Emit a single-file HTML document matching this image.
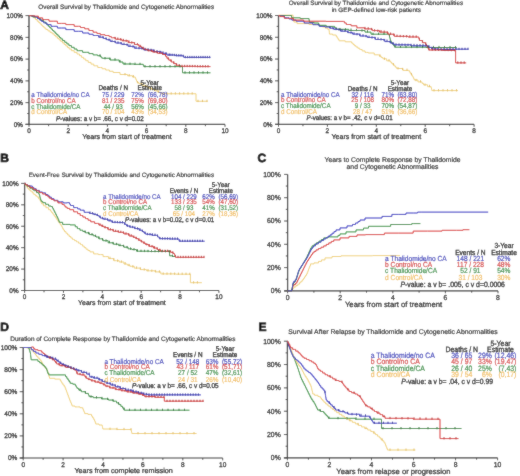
<!DOCTYPE html>
<html><head><meta charset="utf-8"><style>
html,body{margin:0;padding:0;background:#fff;}
svg{display:block;font-family:"Liberation Sans",sans-serif;will-change:transform;text-rendering:geometricPrecision;}
</style></head><body><div id="w">
<svg width="520" height="476" viewBox="0 0 520 476">
<defs><filter id="bl" x="0" y="0" width="520" height="476" filterUnits="userSpaceOnUse"><feConvolveMatrix order="3" kernelMatrix="1 2 1 2 24 2 1 2 1" edgeMode="duplicate" preserveAlpha="true"/></filter></defs>
<g filter="url(#bl)">
<rect width="520" height="476" fill="#fff"/>
<text transform="translate(0.20,8.70) scale(1,1.0)" font-size="12" text-anchor="start" fill="#000" stroke="#000" stroke-width="0.7" font-weight="bold">A</text>
<text transform="translate(126.20,9.20) scale(1,1.0)" font-size="6.32" text-anchor="middle" fill="#1a1a1a" stroke="#1a1a1a" stroke-width="0.15">Overall Survival by Thalidomide and Cytogenetic Abnormalities</text>
<line x1="29.00" y1="15.60" x2="29.00" y2="124.40" stroke="#3a3a3a" stroke-width="1.3"/>
<line x1="25.50" y1="124.40" x2="225.00" y2="124.40" stroke="#3a3a3a" stroke-width="1.1"/>
<line x1="25.50" y1="124.40" x2="29.00" y2="124.40" stroke="#3a3a3a" stroke-width="0.9"/>
<text transform="translate(22.90,126.70) scale(1,1.06)" font-size="6.4" text-anchor="end" fill="#1a1a1a" stroke="#1a1a1a" stroke-width="0.24">0%</text>
<line x1="27.20" y1="113.52" x2="29.00" y2="113.52" stroke="#3a3a3a" stroke-width="0.9"/>
<line x1="25.50" y1="102.64" x2="29.00" y2="102.64" stroke="#3a3a3a" stroke-width="0.9"/>
<text transform="translate(22.90,104.94) scale(1,1.06)" font-size="6.4" text-anchor="end" fill="#1a1a1a" stroke="#1a1a1a" stroke-width="0.24">20%</text>
<line x1="27.20" y1="91.76" x2="29.00" y2="91.76" stroke="#3a3a3a" stroke-width="0.9"/>
<line x1="25.50" y1="80.88" x2="29.00" y2="80.88" stroke="#3a3a3a" stroke-width="0.9"/>
<text transform="translate(22.90,83.18) scale(1,1.06)" font-size="6.4" text-anchor="end" fill="#1a1a1a" stroke="#1a1a1a" stroke-width="0.24">40%</text>
<line x1="27.20" y1="70.00" x2="29.00" y2="70.00" stroke="#3a3a3a" stroke-width="0.9"/>
<line x1="25.50" y1="59.12" x2="29.00" y2="59.12" stroke="#3a3a3a" stroke-width="0.9"/>
<text transform="translate(22.90,61.42) scale(1,1.06)" font-size="6.4" text-anchor="end" fill="#1a1a1a" stroke="#1a1a1a" stroke-width="0.24">60%</text>
<line x1="27.20" y1="48.24" x2="29.00" y2="48.24" stroke="#3a3a3a" stroke-width="0.9"/>
<line x1="25.50" y1="37.36" x2="29.00" y2="37.36" stroke="#3a3a3a" stroke-width="0.9"/>
<text transform="translate(22.90,39.66) scale(1,1.06)" font-size="6.4" text-anchor="end" fill="#1a1a1a" stroke="#1a1a1a" stroke-width="0.24">80%</text>
<line x1="27.20" y1="26.48" x2="29.00" y2="26.48" stroke="#3a3a3a" stroke-width="0.9"/>
<line x1="25.50" y1="15.60" x2="29.00" y2="15.60" stroke="#3a3a3a" stroke-width="0.9"/>
<text transform="translate(22.90,17.90) scale(1,1.06)" font-size="6.4" text-anchor="end" fill="#1a1a1a" stroke="#1a1a1a" stroke-width="0.24">100%</text>
<line x1="29.00" y1="124.40" x2="29.00" y2="126.80" stroke="#3a3a3a" stroke-width="0.9"/>
<text transform="translate(29.00,133.10) scale(1,1.06)" font-size="6.4" text-anchor="middle" fill="#1a1a1a" stroke="#1a1a1a" stroke-width="0.24">0</text>
<line x1="48.60" y1="124.40" x2="48.60" y2="126.20" stroke="#3a3a3a" stroke-width="0.9"/>
<line x1="68.20" y1="124.40" x2="68.20" y2="126.80" stroke="#3a3a3a" stroke-width="0.9"/>
<text transform="translate(68.20,133.10) scale(1,1.06)" font-size="6.4" text-anchor="middle" fill="#1a1a1a" stroke="#1a1a1a" stroke-width="0.24">2</text>
<line x1="87.80" y1="124.40" x2="87.80" y2="126.20" stroke="#3a3a3a" stroke-width="0.9"/>
<line x1="107.40" y1="124.40" x2="107.40" y2="126.80" stroke="#3a3a3a" stroke-width="0.9"/>
<text transform="translate(107.40,133.10) scale(1,1.06)" font-size="6.4" text-anchor="middle" fill="#1a1a1a" stroke="#1a1a1a" stroke-width="0.24">4</text>
<line x1="127.00" y1="124.40" x2="127.00" y2="126.20" stroke="#3a3a3a" stroke-width="0.9"/>
<line x1="146.60" y1="124.40" x2="146.60" y2="126.80" stroke="#3a3a3a" stroke-width="0.9"/>
<text transform="translate(146.60,133.10) scale(1,1.06)" font-size="6.4" text-anchor="middle" fill="#1a1a1a" stroke="#1a1a1a" stroke-width="0.24">6</text>
<line x1="166.20" y1="124.40" x2="166.20" y2="126.20" stroke="#3a3a3a" stroke-width="0.9"/>
<line x1="185.80" y1="124.40" x2="185.80" y2="126.80" stroke="#3a3a3a" stroke-width="0.9"/>
<text transform="translate(185.80,133.10) scale(1,1.06)" font-size="6.4" text-anchor="middle" fill="#1a1a1a" stroke="#1a1a1a" stroke-width="0.24">8</text>
<line x1="205.40" y1="124.40" x2="205.40" y2="126.20" stroke="#3a3a3a" stroke-width="0.9"/>
<line x1="225.00" y1="124.40" x2="225.00" y2="126.80" stroke="#3a3a3a" stroke-width="0.9"/>
<text transform="translate(225.00,133.10) scale(1,1.06)" font-size="6.4" text-anchor="middle" fill="#1a1a1a" stroke="#1a1a1a" stroke-width="0.24">10</text>
<text transform="translate(126.90,138.60) scale(1,1.0)" font-size="7.08" text-anchor="middle" fill="#1a1a1a" stroke="#1a1a1a" stroke-width="0.24">Years from start of treatment</text>
<polyline points="29.00,15.60 31.00,15.60 31.00,16.20 33.00,16.20 33.83,16.20 33.83,17.87 35.50,17.87 35.50,19.53 37.17,19.53 37.17,21.20 38.00,21.20 38.68,21.20 38.68,22.56 40.04,22.56 40.04,23.92 41.40,23.92 41.40,25.28 42.76,25.28 42.76,26.64 44.12,26.64 44.12,28.00 44.80,28.00 45.85,28.00 45.85,29.45 47.95,29.45 47.95,30.90 50.05,30.90 50.05,32.35 52.15,32.35 52.15,33.80 53.20,33.80 54.04,33.80 54.04,35.32 55.72,35.32 55.72,36.84 57.40,36.84 57.40,38.36 59.08,38.36 59.08,39.88 60.76,39.88 60.76,41.40 61.60,41.40 62.44,41.40 62.44,42.92 64.12,42.92 64.12,44.44 65.80,44.44 65.80,45.96 67.48,45.96 67.48,47.48 69.16,47.48 69.16,49.00 70.00,49.00 71.40,49.00 71.40,50.67 74.20,50.67 74.20,52.33 77.00,52.33 77.00,54.00 78.40,54.00 79.45,54.00 79.45,55.67 81.55,55.67 81.55,57.35 83.65,57.35 83.65,59.03 85.75,59.03 85.75,60.70 86.80,60.70 88.20,60.70 88.20,62.40 91.00,62.40 91.00,64.10 93.80,64.10 93.80,65.80 95.20,65.80 97.75,65.80 97.75,67.50 100.30,67.50 102.10,67.50 102.10,68.75 105.70,68.75 105.70,70.00 107.50,70.00 109.38,70.00 109.38,71.25 113.12,71.25 113.12,72.50 115.00,72.50 120.00,72.50 120.00,74.50 125.00,74.50 127.50,74.50 127.50,75.75 132.50,75.75 132.50,77.00 135.00,77.00 135.31,77.00 135.31,78.38 135.94,78.38 135.94,79.75 136.56,79.75 136.56,81.12 137.19,81.12 137.19,82.50 137.50,82.50 138.75,82.50 138.75,83.75 140.00,83.75 141.67,83.75 141.67,85.17 145.00,85.17 145.00,86.58 148.33,86.58 148.33,88.00 150.00,88.00 151.56,88.00 151.56,89.44 154.69,89.44 154.69,90.88 157.81,90.88 157.81,92.31 160.94,92.31 160.94,93.75 162.50,93.75 196.00,93.75 196.00,101.25 207.50,101.25" fill="none" stroke="#f0d27c" stroke-width="1.0" stroke-linejoin="miter" opacity="1"/>
<polyline points="29.00,15.60 32.70,15.60 32.70,17.00 36.40,17.00 37.80,17.00 37.80,18.67 40.60,18.67 40.60,20.33 43.40,20.33 43.40,22.00 44.80,22.00 45.50,22.00 45.50,23.42 46.90,23.42 46.90,24.83 48.30,24.83 48.30,26.25 49.70,26.25 49.70,27.67 51.10,27.67 51.10,29.08 52.50,29.08 52.50,30.50 53.20,30.50 53.90,30.50 53.90,31.90 55.30,31.90 55.30,33.30 56.70,33.30 56.70,34.70 58.10,34.70 58.10,36.10 59.50,36.10 59.50,37.50 60.90,37.50 60.90,38.90 61.60,38.90 62.65,38.90 62.65,40.58 64.75,40.58 64.75,42.25 66.85,42.25 66.85,43.92 68.95,43.92 68.95,45.60 70.00,45.60 71.40,45.60 71.40,47.30 74.20,47.30 74.20,49.00 77.00,49.00 77.00,50.70 78.40,50.70 82.60,50.70 82.60,52.30 86.80,52.30 88.90,52.30 88.90,53.60 93.10,53.60 93.10,54.90 95.20,54.90 97.60,54.90 97.60,55.75 100.00,55.75 100.62,55.75 100.62,57.00 101.88,57.00 101.88,58.25 102.50,58.25 110.00,58.25 110.00,60.00 117.50,60.00 119.25,60.00 119.25,62.00 121.00,62.00 123.00,62.00 123.00,64.00 125.00,64.00 134.00,64.00 134.00,64.30 143.00,64.30 143.25,64.30 143.25,65.45 143.75,65.45 143.75,66.60 144.00,66.60 182.50,66.60 182.50,72.80 210.50,72.80" fill="none" stroke="#2f8f3a" stroke-width="1.0" stroke-linejoin="miter" opacity="1"/>
<polyline points="29.00,15.60 31.00,15.60 31.00,16.00 33.00,16.00 34.70,16.00 34.70,17.00 36.40,17.00 37.45,17.00 37.45,18.48 39.55,18.48 39.55,19.95 41.65,19.95 41.65,21.42 43.75,21.42 43.75,22.90 44.80,22.90 46.90,22.90 46.90,24.60 51.10,24.60 51.10,26.30 53.20,26.30 57.40,26.30 57.40,28.00 61.60,28.00 65.80,28.00 65.80,29.60 70.00,29.60 74.20,29.60 74.20,31.30 78.40,31.30 82.60,31.30 82.60,33.00 86.80,33.00 88.90,33.00 88.90,34.25 93.10,34.25 93.10,35.50 95.20,35.50 98.60,35.50 98.60,37.20 102.00,37.20 103.50,37.20 103.50,38.45 106.50,38.45 106.50,39.70 108.00,39.70 110.25,39.70 110.25,41.50 112.50,41.50 115.62,41.50 115.62,43.00 121.88,43.00 121.88,44.50 125.00,44.50 128.12,44.50 128.12,46.38 134.38,46.38 134.38,48.25 137.50,48.25 143.75,48.25 143.75,50.00 150.00,50.00 153.75,50.00 153.75,51.62 161.25,51.62 161.25,53.25 165.00,53.25 166.88,53.25 166.88,55.00 168.75,55.00 175.62,55.00 175.62,55.75 182.50,55.75 183.75,55.75 183.75,57.40 185.00,57.40 210.50,57.40" fill="none" stroke="#3030c0" stroke-width="1.0" stroke-linejoin="miter" opacity="1"/>
<polyline points="29.00,15.60 31.00,15.60 31.00,15.80 33.00,15.80 34.70,15.80 34.70,16.20 36.40,16.20 38.50,16.20 38.50,17.90 42.70,17.90 42.70,19.60 44.80,19.60 49.00,19.60 49.00,21.20 53.20,21.20 57.40,21.20 57.40,23.40 61.60,23.40 65.80,23.40 65.80,24.60 70.00,24.60 74.20,24.60 74.20,26.30 78.40,26.30 80.50,26.30 80.50,27.55 84.70,27.55 84.70,28.80 86.80,28.80 88.90,28.80 88.90,30.50 93.10,30.50 93.10,32.20 95.20,32.20 96.90,32.20 96.90,33.45 100.30,33.45 100.30,34.70 102.00,34.70 105.00,34.70 105.00,35.50 108.00,35.50 109.12,35.50 109.12,36.62 111.38,36.62 111.38,37.75 112.50,37.75 115.62,37.75 115.62,39.25 121.88,39.25 121.88,40.75 125.00,40.75 128.12,40.75 128.12,42.62 134.38,42.62 134.38,44.50 137.50,44.50 138.75,44.50 138.75,46.17 141.25,46.17 141.25,47.83 143.75,47.83 143.75,49.50 145.00,49.50 147.50,49.50 147.50,50.75 152.50,50.75 152.50,52.00 155.00,52.00 157.50,52.00 157.50,53.25 162.50,53.25 162.50,54.50 165.00,54.50 165.62,54.50 165.62,56.38 166.88,56.38 166.88,58.25 167.50,58.25 168.75,58.25 168.75,60.12 171.25,60.12 171.25,62.00 172.50,62.00 173.75,62.00 173.75,63.62 176.25,63.62 176.25,65.25 177.50,65.25 179.75,65.25 179.75,66.30 182.00,66.30 196.25,66.30 196.25,66.60 210.50,66.60" fill="none" stroke="#d83030" stroke-width="1.0" stroke-linejoin="miter" opacity="1"/>
<line x1="100.00" y1="35.20" x2="100.00" y2="37.50" stroke="#20209a" stroke-width="0.9"/>
<line x1="103.00" y1="36.12" x2="103.00" y2="38.42" stroke="#20209a" stroke-width="0.9"/>
<line x1="106.00" y1="37.37" x2="106.00" y2="39.67" stroke="#20209a" stroke-width="0.9"/>
<line x1="109.00" y1="38.60" x2="109.00" y2="40.90" stroke="#20209a" stroke-width="0.9"/>
<line x1="112.00" y1="39.80" x2="112.00" y2="42.10" stroke="#20209a" stroke-width="0.9"/>
<line x1="115.00" y1="40.60" x2="115.00" y2="42.90" stroke="#20209a" stroke-width="0.9"/>
<line x1="118.00" y1="41.32" x2="118.00" y2="43.62" stroke="#20209a" stroke-width="0.9"/>
<line x1="121.00" y1="42.04" x2="121.00" y2="44.34" stroke="#20209a" stroke-width="0.9"/>
<line x1="124.00" y1="42.76" x2="124.00" y2="45.06" stroke="#20209a" stroke-width="0.9"/>
<line x1="127.00" y1="43.60" x2="127.00" y2="45.90" stroke="#20209a" stroke-width="0.9"/>
<line x1="130.00" y1="44.50" x2="130.00" y2="46.80" stroke="#20209a" stroke-width="0.9"/>
<line x1="133.00" y1="45.40" x2="133.00" y2="47.70" stroke="#20209a" stroke-width="0.9"/>
<line x1="136.00" y1="46.30" x2="136.00" y2="48.60" stroke="#20209a" stroke-width="0.9"/>
<line x1="139.00" y1="46.96" x2="139.00" y2="49.26" stroke="#20209a" stroke-width="0.9"/>
<line x1="142.00" y1="47.38" x2="142.00" y2="49.68" stroke="#20209a" stroke-width="0.9"/>
<line x1="145.00" y1="47.80" x2="145.00" y2="50.10" stroke="#20209a" stroke-width="0.9"/>
<line x1="148.00" y1="48.22" x2="148.00" y2="50.52" stroke="#20209a" stroke-width="0.9"/>
<line x1="151.00" y1="48.72" x2="151.00" y2="51.02" stroke="#20209a" stroke-width="0.9"/>
<line x1="154.00" y1="49.37" x2="154.00" y2="51.67" stroke="#20209a" stroke-width="0.9"/>
<line x1="157.00" y1="50.02" x2="157.00" y2="52.32" stroke="#20209a" stroke-width="0.9"/>
<line x1="160.00" y1="50.67" x2="160.00" y2="52.97" stroke="#20209a" stroke-width="0.9"/>
<line x1="163.00" y1="51.32" x2="163.00" y2="53.62" stroke="#20209a" stroke-width="0.9"/>
<line x1="166.00" y1="52.22" x2="166.00" y2="54.52" stroke="#20209a" stroke-width="0.9"/>
<line x1="169.00" y1="53.51" x2="169.00" y2="55.81" stroke="#20209a" stroke-width="0.9"/>
<line x1="170.00" y1="53.57" x2="170.00" y2="55.87" stroke="#20209a" stroke-width="0.9"/>
<line x1="172.20" y1="53.69" x2="172.20" y2="55.99" stroke="#20209a" stroke-width="0.9"/>
<line x1="174.40" y1="53.81" x2="174.40" y2="56.11" stroke="#20209a" stroke-width="0.9"/>
<line x1="176.60" y1="53.93" x2="176.60" y2="56.23" stroke="#20209a" stroke-width="0.9"/>
<line x1="178.80" y1="54.05" x2="178.80" y2="56.35" stroke="#20209a" stroke-width="0.9"/>
<line x1="181.00" y1="54.17" x2="181.00" y2="56.47" stroke="#20209a" stroke-width="0.9"/>
<line x1="183.20" y1="54.71" x2="183.20" y2="57.01" stroke="#20209a" stroke-width="0.9"/>
<line x1="185.40" y1="55.90" x2="185.40" y2="58.20" stroke="#20209a" stroke-width="0.9"/>
<line x1="187.60" y1="55.90" x2="187.60" y2="58.20" stroke="#20209a" stroke-width="0.9"/>
<line x1="189.80" y1="55.90" x2="189.80" y2="58.20" stroke="#20209a" stroke-width="0.9"/>
<line x1="192.00" y1="55.90" x2="192.00" y2="58.20" stroke="#20209a" stroke-width="0.9"/>
<line x1="194.20" y1="55.90" x2="194.20" y2="58.20" stroke="#20209a" stroke-width="0.9"/>
<line x1="196.40" y1="55.90" x2="196.40" y2="58.20" stroke="#20209a" stroke-width="0.9"/>
<line x1="198.60" y1="55.90" x2="198.60" y2="58.20" stroke="#20209a" stroke-width="0.9"/>
<line x1="200.80" y1="55.90" x2="200.80" y2="58.20" stroke="#20209a" stroke-width="0.9"/>
<line x1="203.00" y1="55.90" x2="203.00" y2="58.20" stroke="#20209a" stroke-width="0.9"/>
<line x1="205.20" y1="55.90" x2="205.20" y2="58.20" stroke="#20209a" stroke-width="0.9"/>
<line x1="207.40" y1="55.90" x2="207.40" y2="58.20" stroke="#20209a" stroke-width="0.9"/>
<line x1="209.60" y1="55.90" x2="209.60" y2="58.20" stroke="#20209a" stroke-width="0.9"/>
<line x1="115.00" y1="36.85" x2="115.00" y2="39.15" stroke="#b82020" stroke-width="0.9"/>
<line x1="117.80" y1="37.52" x2="117.80" y2="39.82" stroke="#b82020" stroke-width="0.9"/>
<line x1="120.60" y1="38.19" x2="120.60" y2="40.49" stroke="#b82020" stroke-width="0.9"/>
<line x1="123.40" y1="38.87" x2="123.40" y2="41.17" stroke="#b82020" stroke-width="0.9"/>
<line x1="126.20" y1="39.61" x2="126.20" y2="41.91" stroke="#b82020" stroke-width="0.9"/>
<line x1="129.00" y1="40.45" x2="129.00" y2="42.75" stroke="#b82020" stroke-width="0.9"/>
<line x1="131.80" y1="41.29" x2="131.80" y2="43.59" stroke="#b82020" stroke-width="0.9"/>
<line x1="134.60" y1="42.13" x2="134.60" y2="44.43" stroke="#b82020" stroke-width="0.9"/>
<line x1="137.40" y1="42.97" x2="137.40" y2="45.27" stroke="#b82020" stroke-width="0.9"/>
<line x1="140.20" y1="44.80" x2="140.20" y2="47.10" stroke="#b82020" stroke-width="0.9"/>
<line x1="143.00" y1="46.67" x2="143.00" y2="48.97" stroke="#b82020" stroke-width="0.9"/>
<line x1="145.80" y1="48.20" x2="145.80" y2="50.50" stroke="#b82020" stroke-width="0.9"/>
<line x1="148.60" y1="48.90" x2="148.60" y2="51.20" stroke="#b82020" stroke-width="0.9"/>
<line x1="151.40" y1="49.60" x2="151.40" y2="51.90" stroke="#b82020" stroke-width="0.9"/>
<line x1="154.20" y1="50.30" x2="154.20" y2="52.60" stroke="#b82020" stroke-width="0.9"/>
<line x1="157.00" y1="51.00" x2="157.00" y2="53.30" stroke="#b82020" stroke-width="0.9"/>
<line x1="159.80" y1="51.70" x2="159.80" y2="54.00" stroke="#b82020" stroke-width="0.9"/>
<line x1="162.60" y1="52.40" x2="162.60" y2="54.70" stroke="#b82020" stroke-width="0.9"/>
<line x1="165.40" y1="53.60" x2="165.40" y2="55.90" stroke="#b82020" stroke-width="0.9"/>
<line x1="168.20" y1="57.28" x2="168.20" y2="59.58" stroke="#b82020" stroke-width="0.9"/>
<line x1="171.00" y1="59.38" x2="171.00" y2="61.68" stroke="#b82020" stroke-width="0.9"/>
<line x1="173.80" y1="61.35" x2="173.80" y2="63.65" stroke="#b82020" stroke-width="0.9"/>
<line x1="176.60" y1="63.17" x2="176.60" y2="65.47" stroke="#b82020" stroke-width="0.9"/>
<line x1="179.40" y1="64.19" x2="179.40" y2="66.49" stroke="#b82020" stroke-width="0.9"/>
<line x1="182.00" y1="64.80" x2="182.00" y2="67.10" stroke="#b82020" stroke-width="0.9"/>
<line x1="184.60" y1="64.83" x2="184.60" y2="67.13" stroke="#b82020" stroke-width="0.9"/>
<line x1="187.20" y1="64.85" x2="187.20" y2="67.15" stroke="#b82020" stroke-width="0.9"/>
<line x1="189.80" y1="64.88" x2="189.80" y2="67.18" stroke="#b82020" stroke-width="0.9"/>
<line x1="192.40" y1="64.91" x2="192.40" y2="67.21" stroke="#b82020" stroke-width="0.9"/>
<line x1="195.00" y1="64.94" x2="195.00" y2="67.24" stroke="#b82020" stroke-width="0.9"/>
<line x1="197.60" y1="64.96" x2="197.60" y2="67.26" stroke="#b82020" stroke-width="0.9"/>
<line x1="200.20" y1="64.99" x2="200.20" y2="67.29" stroke="#b82020" stroke-width="0.9"/>
<line x1="202.80" y1="65.02" x2="202.80" y2="67.32" stroke="#b82020" stroke-width="0.9"/>
<line x1="205.40" y1="65.05" x2="205.40" y2="67.35" stroke="#b82020" stroke-width="0.9"/>
<line x1="208.00" y1="65.07" x2="208.00" y2="67.37" stroke="#b82020" stroke-width="0.9"/>
<line x1="100.00" y1="54.25" x2="100.00" y2="56.55" stroke="#1f6f2a" stroke-width="0.9"/>
<line x1="105.00" y1="57.04" x2="105.00" y2="59.34" stroke="#1f6f2a" stroke-width="0.9"/>
<line x1="110.00" y1="57.62" x2="110.00" y2="59.92" stroke="#1f6f2a" stroke-width="0.9"/>
<line x1="115.00" y1="58.21" x2="115.00" y2="60.51" stroke="#1f6f2a" stroke-width="0.9"/>
<line x1="120.00" y1="59.93" x2="120.00" y2="62.23" stroke="#1f6f2a" stroke-width="0.9"/>
<line x1="125.00" y1="62.50" x2="125.00" y2="64.80" stroke="#1f6f2a" stroke-width="0.9"/>
<line x1="130.00" y1="62.58" x2="130.00" y2="64.88" stroke="#1f6f2a" stroke-width="0.9"/>
<line x1="135.00" y1="62.67" x2="135.00" y2="64.97" stroke="#1f6f2a" stroke-width="0.9"/>
<line x1="140.00" y1="62.75" x2="140.00" y2="65.05" stroke="#1f6f2a" stroke-width="0.9"/>
<line x1="145.00" y1="65.10" x2="145.00" y2="67.40" stroke="#1f6f2a" stroke-width="0.9"/>
<line x1="150.00" y1="65.10" x2="150.00" y2="67.40" stroke="#1f6f2a" stroke-width="0.9"/>
<line x1="155.00" y1="65.10" x2="155.00" y2="67.40" stroke="#1f6f2a" stroke-width="0.9"/>
<line x1="160.00" y1="65.10" x2="160.00" y2="67.40" stroke="#1f6f2a" stroke-width="0.9"/>
<line x1="165.00" y1="65.10" x2="165.00" y2="67.40" stroke="#1f6f2a" stroke-width="0.9"/>
<line x1="170.00" y1="65.10" x2="170.00" y2="67.40" stroke="#1f6f2a" stroke-width="0.9"/>
<line x1="175.00" y1="65.10" x2="175.00" y2="67.40" stroke="#1f6f2a" stroke-width="0.9"/>
<line x1="180.00" y1="65.10" x2="180.00" y2="67.40" stroke="#1f6f2a" stroke-width="0.9"/>
<line x1="185.00" y1="71.30" x2="185.00" y2="73.60" stroke="#1f6f2a" stroke-width="0.9"/>
<line x1="189.50" y1="71.30" x2="189.50" y2="73.60" stroke="#1f6f2a" stroke-width="0.9"/>
<line x1="194.00" y1="71.30" x2="194.00" y2="73.60" stroke="#1f6f2a" stroke-width="0.9"/>
<line x1="198.50" y1="71.30" x2="198.50" y2="73.60" stroke="#1f6f2a" stroke-width="0.9"/>
<line x1="203.00" y1="71.30" x2="203.00" y2="73.60" stroke="#1f6f2a" stroke-width="0.9"/>
<line x1="207.50" y1="71.30" x2="207.50" y2="73.60" stroke="#1f6f2a" stroke-width="0.9"/>
<line x1="125.00" y1="73.00" x2="125.00" y2="75.30" stroke="#e2bc5c" stroke-width="0.9"/>
<line x1="129.20" y1="74.05" x2="129.20" y2="76.35" stroke="#e2bc5c" stroke-width="0.9"/>
<line x1="133.40" y1="75.10" x2="133.40" y2="77.40" stroke="#e2bc5c" stroke-width="0.9"/>
<line x1="137.60" y1="81.05" x2="137.60" y2="83.35" stroke="#e2bc5c" stroke-width="0.9"/>
<line x1="141.80" y1="83.01" x2="141.80" y2="85.31" stroke="#e2bc5c" stroke-width="0.9"/>
<line x1="146.00" y1="84.80" x2="146.00" y2="87.10" stroke="#e2bc5c" stroke-width="0.9"/>
<line x1="150.20" y1="86.59" x2="150.20" y2="88.89" stroke="#e2bc5c" stroke-width="0.9"/>
<line x1="154.40" y1="88.52" x2="154.40" y2="90.82" stroke="#e2bc5c" stroke-width="0.9"/>
<line x1="158.60" y1="90.46" x2="158.60" y2="92.76" stroke="#e2bc5c" stroke-width="0.9"/>
<line x1="162.80" y1="92.25" x2="162.80" y2="94.55" stroke="#e2bc5c" stroke-width="0.9"/>
<line x1="167.00" y1="92.25" x2="167.00" y2="94.55" stroke="#e2bc5c" stroke-width="0.9"/>
<line x1="171.20" y1="92.25" x2="171.20" y2="94.55" stroke="#e2bc5c" stroke-width="0.9"/>
<line x1="175.40" y1="92.25" x2="175.40" y2="94.55" stroke="#e2bc5c" stroke-width="0.9"/>
<line x1="179.60" y1="92.25" x2="179.60" y2="94.55" stroke="#e2bc5c" stroke-width="0.9"/>
<line x1="183.80" y1="92.25" x2="183.80" y2="94.55" stroke="#e2bc5c" stroke-width="0.9"/>
<line x1="188.00" y1="92.25" x2="188.00" y2="94.55" stroke="#e2bc5c" stroke-width="0.9"/>
<line x1="192.20" y1="92.25" x2="192.20" y2="94.55" stroke="#e2bc5c" stroke-width="0.9"/>
<line x1="198.00" y1="99.75" x2="198.00" y2="102.05" stroke="#e2bc5c" stroke-width="0.9"/>
<line x1="202.50" y1="99.75" x2="202.50" y2="102.05" stroke="#e2bc5c" stroke-width="0.9"/>
<line x1="207.00" y1="99.75" x2="207.00" y2="102.05" stroke="#e2bc5c" stroke-width="0.9"/>
<text transform="translate(31.30,96.75) scale(1,1.12)" font-size="6.25" text-anchor="start" fill="#3a3eb8" stroke="#3a3eb8" stroke-width="0.15">a Thalidomide/no CA</text>
<text transform="translate(113.20,96.75) scale(1,1.12)" font-size="6.25" text-anchor="middle" fill="#3a3eb8" stroke="#3a3eb8" stroke-width="0.15">75 / 229</text>
<text transform="translate(143.70,96.75) scale(1,1.12)" font-size="6.25" text-anchor="end" fill="#3a3eb8" stroke="#3a3eb8" stroke-width="0.15">72%</text>
<text transform="translate(147.70,96.75) scale(1,1.12)" font-size="6.25" text-anchor="start" fill="#3a3eb8" stroke="#3a3eb8" stroke-width="0.15">(66,78)</text>
<text transform="translate(31.30,102.65) scale(1,1.12)" font-size="6.25" text-anchor="start" fill="#d44040" stroke="#d44040" stroke-width="0.15">b Control/no CA</text>
<text transform="translate(113.20,102.65) scale(1,1.12)" font-size="6.25" text-anchor="middle" fill="#d44040" stroke="#d44040" stroke-width="0.15">81 / 235</text>
<text transform="translate(143.70,102.65) scale(1,1.12)" font-size="6.25" text-anchor="end" fill="#d44040" stroke="#d44040" stroke-width="0.15">75%</text>
<text transform="translate(147.70,102.65) scale(1,1.12)" font-size="6.25" text-anchor="start" fill="#d44040" stroke="#d44040" stroke-width="0.15">(69,80)</text>
<text transform="translate(31.30,108.55) scale(1,1.12)" font-size="6.25" text-anchor="start" fill="#368c42" stroke="#368c42" stroke-width="0.15">c Thalidomide/CA</text>
<text transform="translate(113.20,108.55) scale(1,1.12)" font-size="6.25" text-anchor="middle" fill="#368c42" stroke="#368c42" stroke-width="0.15">44 / 93</text>
<text transform="translate(143.70,108.55) scale(1,1.12)" font-size="6.25" text-anchor="end" fill="#368c42" stroke="#368c42" stroke-width="0.15">56%</text>
<text transform="translate(147.70,108.55) scale(1,1.12)" font-size="6.25" text-anchor="start" fill="#368c42" stroke="#368c42" stroke-width="0.15">(45,66)</text>
<text transform="translate(31.30,114.45) scale(1,1.12)" font-size="6.25" text-anchor="start" fill="#f0bc5c" stroke="#f0bc5c" stroke-width="0.15">d Control/CA</text>
<text transform="translate(113.20,114.45) scale(1,1.12)" font-size="6.25" text-anchor="middle" fill="#f0bc5c" stroke="#f0bc5c" stroke-width="0.15">70 / 104</text>
<text transform="translate(143.70,114.45) scale(1,1.12)" font-size="6.25" text-anchor="end" fill="#f0bc5c" stroke="#f0bc5c" stroke-width="0.15">43%</text>
<text transform="translate(147.70,114.45) scale(1,1.12)" font-size="6.25" text-anchor="start" fill="#f0bc5c" stroke="#f0bc5c" stroke-width="0.15">(34,53)</text>
<text transform="translate(113.20,90.45) scale(1,1.12)" font-size="6.25" text-anchor="middle" fill="#1a1a1a" stroke="#1a1a1a" stroke-width="0.25">Deaths / N</text>
<text transform="translate(149.70,84.65) scale(1,1.12)" font-size="6.25" text-anchor="middle" fill="#1a1a1a" stroke="#1a1a1a" stroke-width="0.25">5-Year</text>
<text transform="translate(149.70,90.45) scale(1,1.12)" font-size="6.25" text-anchor="middle" fill="#1a1a1a" stroke="#1a1a1a" stroke-width="0.25">Estimate</text>
<text transform="translate(55.90,120.65) scale(1,1.12)" font-size="6.25" fill="#1a1a1a" stroke="#1a1a1a" stroke-width="0.25"><tspan font-style="italic">P</tspan>-values: a v b= .66, c v d=0.02</text>
<text transform="translate(0.00,0.00) scale(1,1.0)" font-size="12" text-anchor="start" fill="#000" stroke="#000" stroke-width="0.7" font-weight="bold"></text>
<text transform="translate(375.90,4.60) scale(1,1.0)" font-size="6.28" text-anchor="middle" fill="#1a1a1a" stroke="#1a1a1a" stroke-width="0.15">Overall Survival by Thalidomide and Cytogenetic Abnormalities</text>
<text transform="translate(376.30,11.50) scale(1,1.0)" font-size="6.28" text-anchor="middle" fill="#1a1a1a" stroke="#1a1a1a" stroke-width="0.15">in GEP-defined low-risk patients</text>
<line x1="278.50" y1="15.50" x2="278.50" y2="124.40" stroke="#3a3a3a" stroke-width="1.3"/>
<line x1="275.00" y1="124.40" x2="474.10" y2="124.40" stroke="#3a3a3a" stroke-width="1.1"/>
<line x1="275.00" y1="124.40" x2="278.50" y2="124.40" stroke="#3a3a3a" stroke-width="0.9"/>
<text transform="translate(272.50,126.70) scale(1,1.06)" font-size="6.4" text-anchor="end" fill="#1a1a1a" stroke="#1a1a1a" stroke-width="0.24">0%</text>
<line x1="276.70" y1="113.51" x2="278.50" y2="113.51" stroke="#3a3a3a" stroke-width="0.9"/>
<line x1="275.00" y1="102.62" x2="278.50" y2="102.62" stroke="#3a3a3a" stroke-width="0.9"/>
<text transform="translate(272.50,104.92) scale(1,1.06)" font-size="6.4" text-anchor="end" fill="#1a1a1a" stroke="#1a1a1a" stroke-width="0.24">20%</text>
<line x1="276.70" y1="91.73" x2="278.50" y2="91.73" stroke="#3a3a3a" stroke-width="0.9"/>
<line x1="275.00" y1="80.84" x2="278.50" y2="80.84" stroke="#3a3a3a" stroke-width="0.9"/>
<text transform="translate(272.50,83.14) scale(1,1.06)" font-size="6.4" text-anchor="end" fill="#1a1a1a" stroke="#1a1a1a" stroke-width="0.24">40%</text>
<line x1="276.70" y1="69.95" x2="278.50" y2="69.95" stroke="#3a3a3a" stroke-width="0.9"/>
<line x1="275.00" y1="59.06" x2="278.50" y2="59.06" stroke="#3a3a3a" stroke-width="0.9"/>
<text transform="translate(272.50,61.36) scale(1,1.06)" font-size="6.4" text-anchor="end" fill="#1a1a1a" stroke="#1a1a1a" stroke-width="0.24">60%</text>
<line x1="276.70" y1="48.17" x2="278.50" y2="48.17" stroke="#3a3a3a" stroke-width="0.9"/>
<line x1="275.00" y1="37.28" x2="278.50" y2="37.28" stroke="#3a3a3a" stroke-width="0.9"/>
<text transform="translate(272.50,39.58) scale(1,1.06)" font-size="6.4" text-anchor="end" fill="#1a1a1a" stroke="#1a1a1a" stroke-width="0.24">80%</text>
<line x1="276.70" y1="26.39" x2="278.50" y2="26.39" stroke="#3a3a3a" stroke-width="0.9"/>
<line x1="275.00" y1="15.50" x2="278.50" y2="15.50" stroke="#3a3a3a" stroke-width="0.9"/>
<text transform="translate(272.50,17.80) scale(1,1.06)" font-size="6.4" text-anchor="end" fill="#1a1a1a" stroke="#1a1a1a" stroke-width="0.24">100%</text>
<line x1="278.50" y1="124.40" x2="278.50" y2="126.80" stroke="#3a3a3a" stroke-width="0.9"/>
<text transform="translate(278.50,133.20) scale(1,1.06)" font-size="6.4" text-anchor="middle" fill="#1a1a1a" stroke="#1a1a1a" stroke-width="0.24">0</text>
<line x1="302.95" y1="124.40" x2="302.95" y2="126.20" stroke="#3a3a3a" stroke-width="0.9"/>
<line x1="327.40" y1="124.40" x2="327.40" y2="126.80" stroke="#3a3a3a" stroke-width="0.9"/>
<text transform="translate(327.40,133.20) scale(1,1.06)" font-size="6.4" text-anchor="middle" fill="#1a1a1a" stroke="#1a1a1a" stroke-width="0.24">2</text>
<line x1="351.85" y1="124.40" x2="351.85" y2="126.20" stroke="#3a3a3a" stroke-width="0.9"/>
<line x1="376.30" y1="124.40" x2="376.30" y2="126.80" stroke="#3a3a3a" stroke-width="0.9"/>
<text transform="translate(376.30,133.20) scale(1,1.06)" font-size="6.4" text-anchor="middle" fill="#1a1a1a" stroke="#1a1a1a" stroke-width="0.24">4</text>
<line x1="400.75" y1="124.40" x2="400.75" y2="126.20" stroke="#3a3a3a" stroke-width="0.9"/>
<line x1="425.20" y1="124.40" x2="425.20" y2="126.80" stroke="#3a3a3a" stroke-width="0.9"/>
<text transform="translate(425.20,133.20) scale(1,1.06)" font-size="6.4" text-anchor="middle" fill="#1a1a1a" stroke="#1a1a1a" stroke-width="0.24">6</text>
<line x1="449.65" y1="124.40" x2="449.65" y2="126.20" stroke="#3a3a3a" stroke-width="0.9"/>
<line x1="474.10" y1="124.40" x2="474.10" y2="126.80" stroke="#3a3a3a" stroke-width="0.9"/>
<text transform="translate(474.10,133.20) scale(1,1.06)" font-size="6.4" text-anchor="middle" fill="#1a1a1a" stroke="#1a1a1a" stroke-width="0.24">8</text>
<text transform="translate(376.30,139.20) scale(1,1.0)" font-size="7.1" text-anchor="middle" fill="#1a1a1a" stroke="#1a1a1a" stroke-width="0.24">Years from start of treatment</text>
<polyline points="278.50,15.20 293.00,15.20 293.10,15.20 293.10,16.56 293.30,16.56 293.30,17.92 293.50,17.92 293.50,19.28 293.70,19.28 293.70,20.64 293.90,20.64 293.90,22.00 294.00,22.00 297.00,22.00 297.00,23.60 300.00,23.60 309.00,23.60 309.00,24.50 318.00,24.50 319.50,24.50 319.50,25.75 322.50,25.75 322.50,27.00 324.00,27.00 325.25,27.00 325.25,28.15 327.75,28.15 327.75,29.30 329.00,29.30 329.08,29.30 329.08,30.90 329.25,30.90 329.25,32.50 329.42,32.50 329.42,34.10 329.50,34.10 332.60,34.10 332.60,35.00 335.70,35.00 336.18,35.00 336.18,36.45 337.12,36.45 337.12,37.90 338.07,37.90 338.07,39.35 339.02,39.35 339.02,40.80 339.50,40.80 345.25,40.80 345.25,41.80 351.00,41.80 351.67,41.80 351.67,43.10 353.00,43.10 353.00,44.40 354.33,44.40 354.33,45.70 355.00,45.70 355.95,45.70 355.95,46.97 357.85,46.97 357.85,48.23 359.75,48.23 359.75,49.50 360.70,49.50 362.15,49.50 362.15,50.95 365.05,50.95 365.05,52.40 366.50,52.40 368.25,52.40 368.25,53.00 370.00,53.00 374.25,53.00 374.25,54.80 378.50,54.80 379.38,54.80 379.38,56.13 381.15,56.13 381.15,57.47 382.92,57.47 382.92,58.80 383.80,58.80 386.70,58.80 386.70,60.80 389.60,60.80 390.25,60.80 390.25,62.07 391.55,62.07 391.55,63.33 392.85,63.33 392.85,64.60 393.50,64.60 394.13,64.60 394.13,65.90 395.40,65.90 395.40,67.20 396.67,67.20 396.67,68.50 397.30,68.50 403.05,68.50 403.05,70.40 408.80,70.40 409.29,70.40 409.29,71.85 410.26,71.85 410.26,73.30 411.24,73.30 411.24,74.75 412.21,74.75 412.21,76.20 412.70,76.20 413.02,76.20 413.02,77.47 413.65,77.47 413.65,78.73 414.28,78.73 414.28,80.00 414.60,80.00 417.95,80.00 417.95,81.90 421.30,81.90 422.02,81.90 422.02,83.35 423.48,83.35 423.48,84.80 424.20,84.80 427.60,84.80 427.60,86.70 431.00,86.70 431.17,86.70 431.17,88.00 431.50,88.00 431.50,89.30 431.83,89.30 431.83,90.60 432.00,90.60 458.00,90.60" fill="none" stroke="#f0d27c" stroke-width="1.0" stroke-linejoin="miter" opacity="1"/>
<polyline points="278.50,15.50 291.60,15.50 291.60,17.80 300.30,17.80 300.30,18.60 309.00,18.60 309.07,18.60 309.07,19.87 309.20,19.87 309.20,21.13 309.33,21.13 309.33,22.40 309.40,22.40 314.05,22.40 314.05,23.00 318.70,23.00 318.70,25.30 326.20,25.30 326.20,26.40 333.70,26.40 334.68,26.40 334.68,27.85 336.62,27.85 336.62,29.30 337.60,29.30 348.80,29.30 348.80,30.50 360.00,30.50 365.00,30.50 365.00,32.10 370.00,32.10 371.00,32.10 371.00,34.20 372.00,34.20 389.00,34.20 389.17,34.20 389.17,35.60 389.50,35.60 389.50,37.00 389.83,37.00 389.83,38.40 390.00,38.40 390.25,38.40 390.25,40.00 390.75,40.00 390.75,41.60 391.00,41.60 391.55,41.60 391.55,43.00 392.65,43.00 392.65,44.40 393.75,44.40 393.75,45.80 394.30,45.80 394.85,45.80 394.85,47.20 395.40,47.20 426.05,47.20 426.05,47.50 456.70,47.50" fill="none" stroke="#2f8f3a" stroke-width="1.0" stroke-linejoin="miter" opacity="1"/>
<polyline points="278.50,15.50 279.85,15.50 279.85,16.00 281.20,16.00 284.35,16.00 284.35,17.80 287.50,17.80 288.95,17.80 288.95,18.95 291.85,18.95 291.85,20.10 293.30,20.10 296.15,20.10 296.15,21.20 299.00,21.20 304.20,21.20 304.20,23.00 309.40,23.00 312.90,23.00 312.90,24.70 316.40,24.70 319.25,24.70 319.25,26.40 322.10,26.40 325.00,26.40 325.00,27.00 327.90,27.00 329.85,27.00 329.85,28.15 333.75,28.15 333.75,29.30 335.70,29.30 340.50,29.30 340.50,31.20 345.30,31.20 347.73,31.20 347.73,32.65 352.57,32.65 352.57,34.10 355.00,34.10 359.75,34.10 359.75,36.00 364.50,36.00 367.25,36.00 367.25,37.40 370.00,37.40 375.30,37.40 375.30,39.50 380.60,39.50 384.80,39.50 384.80,41.60 389.00,41.60 390.60,41.60 390.60,43.20 393.80,43.20 393.80,44.80 395.40,44.80 411.20,44.80 411.20,45.80 427.00,45.80 428.60,45.80 428.60,47.40 431.80,47.40 431.80,49.00 433.40,49.00 437.65,49.00 437.65,49.40 441.90,49.40 455.10,49.40 455.10,49.20 468.30,49.20" fill="none" stroke="#3030c0" stroke-width="1.0" stroke-linejoin="miter" opacity="1"/>
<polyline points="278.50,15.50 279.85,15.50 279.85,16.60 281.20,16.60 284.35,16.60 284.35,18.30 287.50,18.30 293.25,18.30 293.25,20.10 299.00,20.10 303.65,20.10 303.65,21.20 308.30,21.20 325.85,21.20 325.85,21.40 343.40,21.40 344.35,21.40 344.35,22.95 346.25,22.95 346.25,24.50 347.20,24.50 351.10,24.50 351.10,25.80 355.00,25.80 356.90,25.80 356.90,27.80 358.80,27.80 364.55,27.80 364.55,28.90 370.30,28.90 372.25,28.90 372.25,30.60 374.20,30.60 379.50,30.60 379.50,32.10 384.80,32.10 387.95,32.10 387.95,34.20 391.10,34.20 394.30,34.20 394.30,36.30 397.50,36.30 408.05,36.30 408.05,37.00 418.60,37.00 418.88,37.00 418.88,38.75 419.43,38.75 419.43,40.50 419.70,40.50 422.35,40.50 422.35,42.70 425.00,42.70 425.50,42.70 425.50,44.25 426.50,44.25 426.50,45.80 427.00,45.80 427.37,45.80 427.37,47.20 428.10,47.20 428.10,48.60 428.83,48.60 428.83,50.00 429.20,50.00 442.40,50.00 442.40,50.50 455.60,50.50 455.60,62.90 466.20,62.90" fill="none" stroke="#d83030" stroke-width="1.0" stroke-linejoin="miter" opacity="1"/>
<line x1="330.00" y1="26.12" x2="330.00" y2="28.42" stroke="#20209a" stroke-width="0.9"/>
<line x1="333.00" y1="27.00" x2="333.00" y2="29.30" stroke="#20209a" stroke-width="0.9"/>
<line x1="336.00" y1="27.86" x2="336.00" y2="30.16" stroke="#20209a" stroke-width="0.9"/>
<line x1="339.00" y1="28.45" x2="339.00" y2="30.75" stroke="#20209a" stroke-width="0.9"/>
<line x1="342.00" y1="29.05" x2="342.00" y2="31.35" stroke="#20209a" stroke-width="0.9"/>
<line x1="345.00" y1="29.64" x2="345.00" y2="31.94" stroke="#20209a" stroke-width="0.9"/>
<line x1="348.00" y1="30.51" x2="348.00" y2="32.81" stroke="#20209a" stroke-width="0.9"/>
<line x1="351.00" y1="31.40" x2="351.00" y2="33.70" stroke="#20209a" stroke-width="0.9"/>
<line x1="354.00" y1="32.30" x2="354.00" y2="34.60" stroke="#20209a" stroke-width="0.9"/>
<line x1="357.00" y1="33.00" x2="357.00" y2="35.30" stroke="#20209a" stroke-width="0.9"/>
<line x1="360.00" y1="33.60" x2="360.00" y2="35.90" stroke="#20209a" stroke-width="0.9"/>
<line x1="363.00" y1="34.20" x2="363.00" y2="36.50" stroke="#20209a" stroke-width="0.9"/>
<line x1="366.00" y1="34.88" x2="366.00" y2="37.18" stroke="#20209a" stroke-width="0.9"/>
<line x1="369.00" y1="35.65" x2="369.00" y2="37.95" stroke="#20209a" stroke-width="0.9"/>
<line x1="372.00" y1="36.30" x2="372.00" y2="38.60" stroke="#20209a" stroke-width="0.9"/>
<line x1="375.00" y1="36.89" x2="375.00" y2="39.19" stroke="#20209a" stroke-width="0.9"/>
<line x1="378.00" y1="37.48" x2="378.00" y2="39.78" stroke="#20209a" stroke-width="0.9"/>
<line x1="381.00" y1="38.10" x2="381.00" y2="40.40" stroke="#20209a" stroke-width="0.9"/>
<line x1="384.00" y1="38.85" x2="384.00" y2="41.15" stroke="#20209a" stroke-width="0.9"/>
<line x1="387.00" y1="39.60" x2="387.00" y2="41.90" stroke="#20209a" stroke-width="0.9"/>
<line x1="390.00" y1="40.60" x2="390.00" y2="42.90" stroke="#20209a" stroke-width="0.9"/>
<line x1="393.00" y1="42.10" x2="393.00" y2="44.40" stroke="#20209a" stroke-width="0.9"/>
<line x1="396.00" y1="43.32" x2="396.00" y2="45.62" stroke="#20209a" stroke-width="0.9"/>
<line x1="399.00" y1="43.41" x2="399.00" y2="45.71" stroke="#20209a" stroke-width="0.9"/>
<line x1="402.00" y1="43.51" x2="402.00" y2="45.81" stroke="#20209a" stroke-width="0.9"/>
<line x1="405.00" y1="43.60" x2="405.00" y2="45.90" stroke="#20209a" stroke-width="0.9"/>
<line x1="408.00" y1="43.70" x2="408.00" y2="46.00" stroke="#20209a" stroke-width="0.9"/>
<line x1="411.00" y1="43.79" x2="411.00" y2="46.09" stroke="#20209a" stroke-width="0.9"/>
<line x1="414.00" y1="43.89" x2="414.00" y2="46.19" stroke="#20209a" stroke-width="0.9"/>
<line x1="417.00" y1="43.98" x2="417.00" y2="46.28" stroke="#20209a" stroke-width="0.9"/>
<line x1="420.00" y1="44.08" x2="420.00" y2="46.38" stroke="#20209a" stroke-width="0.9"/>
<line x1="423.00" y1="44.17" x2="423.00" y2="46.47" stroke="#20209a" stroke-width="0.9"/>
<line x1="426.00" y1="44.27" x2="426.00" y2="46.57" stroke="#20209a" stroke-width="0.9"/>
<line x1="429.00" y1="45.30" x2="429.00" y2="47.60" stroke="#20209a" stroke-width="0.9"/>
<line x1="432.00" y1="46.80" x2="432.00" y2="49.10" stroke="#20209a" stroke-width="0.9"/>
<line x1="435.00" y1="47.58" x2="435.00" y2="49.88" stroke="#20209a" stroke-width="0.9"/>
<line x1="438.00" y1="47.72" x2="438.00" y2="50.02" stroke="#20209a" stroke-width="0.9"/>
<line x1="441.00" y1="47.86" x2="441.00" y2="50.16" stroke="#20209a" stroke-width="0.9"/>
<line x1="444.00" y1="47.88" x2="444.00" y2="50.18" stroke="#20209a" stroke-width="0.9"/>
<line x1="447.00" y1="47.86" x2="447.00" y2="50.16" stroke="#20209a" stroke-width="0.9"/>
<line x1="450.00" y1="47.84" x2="450.00" y2="50.14" stroke="#20209a" stroke-width="0.9"/>
<line x1="453.00" y1="47.82" x2="453.00" y2="50.12" stroke="#20209a" stroke-width="0.9"/>
<line x1="456.00" y1="47.79" x2="456.00" y2="50.09" stroke="#20209a" stroke-width="0.9"/>
<line x1="459.00" y1="47.77" x2="459.00" y2="50.07" stroke="#20209a" stroke-width="0.9"/>
<line x1="462.00" y1="47.75" x2="462.00" y2="50.05" stroke="#20209a" stroke-width="0.9"/>
<line x1="465.00" y1="47.73" x2="465.00" y2="50.02" stroke="#20209a" stroke-width="0.9"/>
<line x1="468.00" y1="47.70" x2="468.00" y2="50.00" stroke="#20209a" stroke-width="0.9"/>
<line x1="365.00" y1="26.89" x2="365.00" y2="29.19" stroke="#b82020" stroke-width="0.9"/>
<line x1="368.20" y1="27.20" x2="368.20" y2="29.50" stroke="#b82020" stroke-width="0.9"/>
<line x1="371.40" y1="27.88" x2="371.40" y2="30.18" stroke="#b82020" stroke-width="0.9"/>
<line x1="374.60" y1="29.16" x2="374.60" y2="31.46" stroke="#b82020" stroke-width="0.9"/>
<line x1="377.80" y1="29.61" x2="377.80" y2="31.91" stroke="#b82020" stroke-width="0.9"/>
<line x1="381.00" y1="30.06" x2="381.00" y2="32.36" stroke="#b82020" stroke-width="0.9"/>
<line x1="384.20" y1="30.52" x2="384.20" y2="32.82" stroke="#b82020" stroke-width="0.9"/>
<line x1="387.40" y1="31.47" x2="387.40" y2="33.77" stroke="#b82020" stroke-width="0.9"/>
<line x1="390.60" y1="32.53" x2="390.60" y2="34.83" stroke="#b82020" stroke-width="0.9"/>
<line x1="393.80" y1="33.59" x2="393.80" y2="35.89" stroke="#b82020" stroke-width="0.9"/>
<line x1="397.00" y1="34.64" x2="397.00" y2="36.94" stroke="#b82020" stroke-width="0.9"/>
<line x1="400.20" y1="34.89" x2="400.20" y2="37.19" stroke="#b82020" stroke-width="0.9"/>
<line x1="403.40" y1="35.00" x2="403.40" y2="37.30" stroke="#b82020" stroke-width="0.9"/>
<line x1="406.60" y1="35.10" x2="406.60" y2="37.40" stroke="#b82020" stroke-width="0.9"/>
<line x1="409.80" y1="35.21" x2="409.80" y2="37.51" stroke="#b82020" stroke-width="0.9"/>
<line x1="413.00" y1="35.31" x2="413.00" y2="37.61" stroke="#b82020" stroke-width="0.9"/>
<line x1="416.20" y1="35.42" x2="416.20" y2="37.72" stroke="#b82020" stroke-width="0.9"/>
<line x1="419.40" y1="38.05" x2="419.40" y2="40.35" stroke="#b82020" stroke-width="0.9"/>
<line x1="422.60" y1="40.20" x2="422.60" y2="42.50" stroke="#b82020" stroke-width="0.9"/>
<line x1="425.80" y1="42.44" x2="425.80" y2="44.74" stroke="#b82020" stroke-width="0.9"/>
<line x1="429.00" y1="48.12" x2="429.00" y2="50.42" stroke="#b82020" stroke-width="0.9"/>
<line x1="432.20" y1="48.56" x2="432.20" y2="50.86" stroke="#b82020" stroke-width="0.9"/>
<line x1="435.40" y1="48.62" x2="435.40" y2="50.92" stroke="#b82020" stroke-width="0.9"/>
<line x1="438.60" y1="48.68" x2="438.60" y2="50.98" stroke="#b82020" stroke-width="0.9"/>
<line x1="441.80" y1="48.74" x2="441.80" y2="51.04" stroke="#b82020" stroke-width="0.9"/>
<line x1="445.00" y1="48.80" x2="445.00" y2="51.10" stroke="#b82020" stroke-width="0.9"/>
<line x1="448.20" y1="48.86" x2="448.20" y2="51.16" stroke="#b82020" stroke-width="0.9"/>
<line x1="451.40" y1="48.92" x2="451.40" y2="51.22" stroke="#b82020" stroke-width="0.9"/>
<line x1="454.60" y1="48.98" x2="454.60" y2="51.28" stroke="#b82020" stroke-width="0.9"/>
<line x1="457.80" y1="61.40" x2="457.80" y2="63.70" stroke="#b82020" stroke-width="0.9"/>
<line x1="461.00" y1="61.40" x2="461.00" y2="63.70" stroke="#b82020" stroke-width="0.9"/>
<line x1="464.20" y1="61.40" x2="464.20" y2="63.70" stroke="#b82020" stroke-width="0.9"/>
<line x1="340.00" y1="27.93" x2="340.00" y2="30.23" stroke="#1f6f2a" stroke-width="0.9"/>
<line x1="345.50" y1="28.22" x2="345.50" y2="30.52" stroke="#1f6f2a" stroke-width="0.9"/>
<line x1="351.00" y1="28.52" x2="351.00" y2="30.82" stroke="#1f6f2a" stroke-width="0.9"/>
<line x1="356.50" y1="28.81" x2="356.50" y2="31.11" stroke="#1f6f2a" stroke-width="0.9"/>
<line x1="362.00" y1="29.32" x2="362.00" y2="31.62" stroke="#1f6f2a" stroke-width="0.9"/>
<line x1="367.50" y1="30.20" x2="367.50" y2="32.50" stroke="#1f6f2a" stroke-width="0.9"/>
<line x1="373.00" y1="32.70" x2="373.00" y2="35.00" stroke="#1f6f2a" stroke-width="0.9"/>
<line x1="378.50" y1="32.70" x2="378.50" y2="35.00" stroke="#1f6f2a" stroke-width="0.9"/>
<line x1="384.00" y1="32.70" x2="384.00" y2="35.00" stroke="#1f6f2a" stroke-width="0.9"/>
<line x1="389.50" y1="34.80" x2="389.50" y2="37.10" stroke="#1f6f2a" stroke-width="0.9"/>
<line x1="395.00" y1="45.19" x2="395.00" y2="47.49" stroke="#1f6f2a" stroke-width="0.9"/>
<line x1="400.50" y1="45.72" x2="400.50" y2="48.02" stroke="#1f6f2a" stroke-width="0.9"/>
<line x1="406.00" y1="45.75" x2="406.00" y2="48.05" stroke="#1f6f2a" stroke-width="0.9"/>
<line x1="411.50" y1="45.78" x2="411.50" y2="48.08" stroke="#1f6f2a" stroke-width="0.9"/>
<line x1="417.00" y1="45.81" x2="417.00" y2="48.11" stroke="#1f6f2a" stroke-width="0.9"/>
<line x1="422.50" y1="45.83" x2="422.50" y2="48.13" stroke="#1f6f2a" stroke-width="0.9"/>
<line x1="428.00" y1="45.86" x2="428.00" y2="48.16" stroke="#1f6f2a" stroke-width="0.9"/>
<line x1="433.50" y1="45.89" x2="433.50" y2="48.19" stroke="#1f6f2a" stroke-width="0.9"/>
<line x1="439.00" y1="45.91" x2="439.00" y2="48.21" stroke="#1f6f2a" stroke-width="0.9"/>
<line x1="444.50" y1="45.94" x2="444.50" y2="48.24" stroke="#1f6f2a" stroke-width="0.9"/>
<line x1="450.00" y1="45.97" x2="450.00" y2="48.27" stroke="#1f6f2a" stroke-width="0.9"/>
<line x1="455.50" y1="45.99" x2="455.50" y2="48.29" stroke="#1f6f2a" stroke-width="0.9"/>
<line x1="380.00" y1="54.43" x2="380.00" y2="56.73" stroke="#e2bc5c" stroke-width="0.9"/>
<line x1="384.50" y1="57.54" x2="384.50" y2="59.84" stroke="#e2bc5c" stroke-width="0.9"/>
<line x1="389.00" y1="59.09" x2="389.00" y2="61.39" stroke="#e2bc5c" stroke-width="0.9"/>
<line x1="393.50" y1="63.10" x2="393.50" y2="65.40" stroke="#e2bc5c" stroke-width="0.9"/>
<line x1="398.00" y1="67.12" x2="398.00" y2="69.42" stroke="#e2bc5c" stroke-width="0.9"/>
<line x1="402.50" y1="67.86" x2="402.50" y2="70.16" stroke="#e2bc5c" stroke-width="0.9"/>
<line x1="407.00" y1="68.60" x2="407.00" y2="70.90" stroke="#e2bc5c" stroke-width="0.9"/>
<line x1="411.50" y1="72.92" x2="411.50" y2="75.22" stroke="#e2bc5c" stroke-width="0.9"/>
<line x1="416.00" y1="78.90" x2="416.00" y2="81.20" stroke="#e2bc5c" stroke-width="0.9"/>
<line x1="420.50" y1="80.17" x2="420.50" y2="82.47" stroke="#e2bc5c" stroke-width="0.9"/>
<line x1="425.00" y1="83.52" x2="425.00" y2="85.82" stroke="#e2bc5c" stroke-width="0.9"/>
<line x1="429.50" y1="84.78" x2="429.50" y2="87.08" stroke="#e2bc5c" stroke-width="0.9"/>
<line x1="434.00" y1="89.10" x2="434.00" y2="91.40" stroke="#e2bc5c" stroke-width="0.9"/>
<line x1="438.50" y1="89.10" x2="438.50" y2="91.40" stroke="#e2bc5c" stroke-width="0.9"/>
<line x1="443.00" y1="89.10" x2="443.00" y2="91.40" stroke="#e2bc5c" stroke-width="0.9"/>
<line x1="447.50" y1="89.10" x2="447.50" y2="91.40" stroke="#e2bc5c" stroke-width="0.9"/>
<line x1="452.00" y1="89.10" x2="452.00" y2="91.40" stroke="#e2bc5c" stroke-width="0.9"/>
<line x1="456.50" y1="89.10" x2="456.50" y2="91.40" stroke="#e2bc5c" stroke-width="0.9"/>
<text transform="translate(281.00,96.57) scale(1,1.12)" font-size="6.3" text-anchor="start" fill="#3a3eb8" stroke="#3a3eb8" stroke-width="0.15">a Thalidomide/no CA</text>
<text transform="translate(362.70,96.57) scale(1,1.12)" font-size="6.3" text-anchor="middle" fill="#3a3eb8" stroke="#3a3eb8" stroke-width="0.15">32 / 116</text>
<text transform="translate(394.20,96.57) scale(1,1.12)" font-size="6.3" text-anchor="end" fill="#3a3eb8" stroke="#3a3eb8" stroke-width="0.15">71%</text>
<text transform="translate(397.40,96.57) scale(1,1.12)" font-size="6.3" text-anchor="start" fill="#3a3eb8" stroke="#3a3eb8" stroke-width="0.15">(63,80)</text>
<text transform="translate(281.00,102.47) scale(1,1.12)" font-size="6.3" text-anchor="start" fill="#d44040" stroke="#d44040" stroke-width="0.15">b Control/no CA</text>
<text transform="translate(362.70,102.47) scale(1,1.12)" font-size="6.3" text-anchor="middle" fill="#d44040" stroke="#d44040" stroke-width="0.15">25 / 108</text>
<text transform="translate(394.20,102.47) scale(1,1.12)" font-size="6.3" text-anchor="end" fill="#d44040" stroke="#d44040" stroke-width="0.15">80%</text>
<text transform="translate(397.40,102.47) scale(1,1.12)" font-size="6.3" text-anchor="start" fill="#d44040" stroke="#d44040" stroke-width="0.15">(72,88)</text>
<text transform="translate(281.00,108.47) scale(1,1.12)" font-size="6.3" text-anchor="start" fill="#368c42" stroke="#368c42" stroke-width="0.15">c Thalidomide/CA</text>
<text transform="translate(362.70,108.47) scale(1,1.12)" font-size="6.3" text-anchor="middle" fill="#368c42" stroke="#368c42" stroke-width="0.15">9 / 33</text>
<text transform="translate(394.20,108.47) scale(1,1.12)" font-size="6.3" text-anchor="end" fill="#368c42" stroke="#368c42" stroke-width="0.15">70%</text>
<text transform="translate(397.40,108.47) scale(1,1.12)" font-size="6.3" text-anchor="start" fill="#368c42" stroke="#368c42" stroke-width="0.15">(54,87)</text>
<text transform="translate(281.00,114.37) scale(1,1.12)" font-size="6.3" text-anchor="start" fill="#f0bc5c" stroke="#f0bc5c" stroke-width="0.15">d Control/CA</text>
<text transform="translate(362.70,114.37) scale(1,1.12)" font-size="6.3" text-anchor="middle" fill="#f0bc5c" stroke="#f0bc5c" stroke-width="0.15">28 / 47</text>
<text transform="translate(394.20,114.37) scale(1,1.12)" font-size="6.3" text-anchor="end" fill="#f0bc5c" stroke="#f0bc5c" stroke-width="0.15">51%</text>
<text transform="translate(397.40,114.37) scale(1,1.12)" font-size="6.3" text-anchor="start" fill="#f0bc5c" stroke="#f0bc5c" stroke-width="0.15">(36,66)</text>
<text transform="translate(362.70,90.87) scale(1,1.12)" font-size="6.3" text-anchor="middle" fill="#1a1a1a" stroke="#1a1a1a" stroke-width="0.25">Deaths / N</text>
<text transform="translate(399.90,84.77) scale(1,1.12)" font-size="6.3" text-anchor="middle" fill="#1a1a1a" stroke="#1a1a1a" stroke-width="0.25">5-Year</text>
<text transform="translate(399.90,90.87) scale(1,1.12)" font-size="6.3" text-anchor="middle" fill="#1a1a1a" stroke="#1a1a1a" stroke-width="0.25">Estimate</text>
<text transform="translate(306.60,120.40) scale(1,1.12)" font-size="6.12" fill="#1a1a1a" stroke="#1a1a1a" stroke-width="0.25"><tspan font-style="italic">P</tspan>-values: a v b= .42, c v d=0.01</text>
<text transform="translate(0.20,162.30) scale(1,1.0)" font-size="12" text-anchor="start" fill="#000" stroke="#000" stroke-width="0.7" font-weight="bold">B</text>
<text transform="translate(121.40,176.60) scale(1,1.0)" font-size="6.27" text-anchor="middle" fill="#1a1a1a" stroke="#1a1a1a" stroke-width="0.15">Event-Free Survival by Thalidomide and Cytogenetic Abnormalities</text>
<line x1="24.60" y1="183.40" x2="24.60" y2="290.50" stroke="#3a3a3a" stroke-width="1.3"/>
<line x1="21.10" y1="290.50" x2="218.90" y2="290.50" stroke="#3a3a3a" stroke-width="1.1"/>
<line x1="21.10" y1="290.50" x2="24.60" y2="290.50" stroke="#3a3a3a" stroke-width="0.9"/>
<text transform="translate(18.60,292.80) scale(1,1.06)" font-size="6.4" text-anchor="end" fill="#1a1a1a" stroke="#1a1a1a" stroke-width="0.24">0%</text>
<line x1="22.80" y1="279.79" x2="24.60" y2="279.79" stroke="#3a3a3a" stroke-width="0.9"/>
<line x1="21.10" y1="269.08" x2="24.60" y2="269.08" stroke="#3a3a3a" stroke-width="0.9"/>
<text transform="translate(18.60,271.38) scale(1,1.06)" font-size="6.4" text-anchor="end" fill="#1a1a1a" stroke="#1a1a1a" stroke-width="0.24">20%</text>
<line x1="22.80" y1="258.37" x2="24.60" y2="258.37" stroke="#3a3a3a" stroke-width="0.9"/>
<line x1="21.10" y1="247.66" x2="24.60" y2="247.66" stroke="#3a3a3a" stroke-width="0.9"/>
<text transform="translate(18.60,249.96) scale(1,1.06)" font-size="6.4" text-anchor="end" fill="#1a1a1a" stroke="#1a1a1a" stroke-width="0.24">40%</text>
<line x1="22.80" y1="236.95" x2="24.60" y2="236.95" stroke="#3a3a3a" stroke-width="0.9"/>
<line x1="21.10" y1="226.24" x2="24.60" y2="226.24" stroke="#3a3a3a" stroke-width="0.9"/>
<text transform="translate(18.60,228.54) scale(1,1.06)" font-size="6.4" text-anchor="end" fill="#1a1a1a" stroke="#1a1a1a" stroke-width="0.24">60%</text>
<line x1="22.80" y1="215.53" x2="24.60" y2="215.53" stroke="#3a3a3a" stroke-width="0.9"/>
<line x1="21.10" y1="204.82" x2="24.60" y2="204.82" stroke="#3a3a3a" stroke-width="0.9"/>
<text transform="translate(18.60,207.12) scale(1,1.06)" font-size="6.4" text-anchor="end" fill="#1a1a1a" stroke="#1a1a1a" stroke-width="0.24">80%</text>
<line x1="22.80" y1="194.11" x2="24.60" y2="194.11" stroke="#3a3a3a" stroke-width="0.9"/>
<line x1="21.10" y1="183.40" x2="24.60" y2="183.40" stroke="#3a3a3a" stroke-width="0.9"/>
<text transform="translate(18.60,185.70) scale(1,1.06)" font-size="6.4" text-anchor="end" fill="#1a1a1a" stroke="#1a1a1a" stroke-width="0.24">100%</text>
<line x1="24.60" y1="290.50" x2="24.60" y2="292.90" stroke="#3a3a3a" stroke-width="0.9"/>
<text transform="translate(24.60,298.70) scale(1,1.06)" font-size="6.4" text-anchor="middle" fill="#1a1a1a" stroke="#1a1a1a" stroke-width="0.24">0</text>
<line x1="44.03" y1="290.50" x2="44.03" y2="292.30" stroke="#3a3a3a" stroke-width="0.9"/>
<line x1="63.46" y1="290.50" x2="63.46" y2="292.90" stroke="#3a3a3a" stroke-width="0.9"/>
<text transform="translate(63.46,298.70) scale(1,1.06)" font-size="6.4" text-anchor="middle" fill="#1a1a1a" stroke="#1a1a1a" stroke-width="0.24">2</text>
<line x1="82.89" y1="290.50" x2="82.89" y2="292.30" stroke="#3a3a3a" stroke-width="0.9"/>
<line x1="102.32" y1="290.50" x2="102.32" y2="292.90" stroke="#3a3a3a" stroke-width="0.9"/>
<text transform="translate(102.32,298.70) scale(1,1.06)" font-size="6.4" text-anchor="middle" fill="#1a1a1a" stroke="#1a1a1a" stroke-width="0.24">4</text>
<line x1="121.75" y1="290.50" x2="121.75" y2="292.30" stroke="#3a3a3a" stroke-width="0.9"/>
<line x1="141.18" y1="290.50" x2="141.18" y2="292.90" stroke="#3a3a3a" stroke-width="0.9"/>
<text transform="translate(141.18,298.70) scale(1,1.06)" font-size="6.4" text-anchor="middle" fill="#1a1a1a" stroke="#1a1a1a" stroke-width="0.24">6</text>
<line x1="160.61" y1="290.50" x2="160.61" y2="292.30" stroke="#3a3a3a" stroke-width="0.9"/>
<line x1="180.04" y1="290.50" x2="180.04" y2="292.90" stroke="#3a3a3a" stroke-width="0.9"/>
<text transform="translate(180.04,298.70) scale(1,1.06)" font-size="6.4" text-anchor="middle" fill="#1a1a1a" stroke="#1a1a1a" stroke-width="0.24">8</text>
<line x1="199.47" y1="290.50" x2="199.47" y2="292.30" stroke="#3a3a3a" stroke-width="0.9"/>
<line x1="218.90" y1="290.50" x2="218.90" y2="292.90" stroke="#3a3a3a" stroke-width="0.9"/>
<text transform="translate(218.90,298.70) scale(1,1.06)" font-size="6.4" text-anchor="middle" fill="#1a1a1a" stroke="#1a1a1a" stroke-width="0.24">10</text>
<text transform="translate(121.90,304.60) scale(1,1.0)" font-size="6.95" text-anchor="middle" fill="#1a1a1a" stroke="#1a1a1a" stroke-width="0.24">Years from start of treatment</text>
<polyline points="24.50,183.30 25.15,183.30 25.15,185.00 25.80,185.00 26.22,185.00 26.22,186.27 27.05,186.27 27.05,187.53 27.88,187.53 27.88,188.80 28.30,188.80 29.10,188.80 29.10,190.05 30.70,190.05 30.70,191.30 31.50,191.30 32.27,191.30 32.27,192.90 33.83,192.90 33.83,194.50 34.60,194.50 35.40,194.50 35.40,195.75 37.00,195.75 37.00,197.00 37.80,197.00 38.70,197.00 38.70,198.90 39.60,198.90 40.03,198.90 40.03,200.57 40.90,200.57 40.90,202.23 41.77,202.23 41.77,203.90 42.20,203.90 43.45,203.90 43.45,205.80 44.70,205.80 45.95,205.80 45.95,207.70 47.20,207.70 48.60,207.70 48.60,209.70 50.00,209.70 50.53,209.70 50.53,211.10 51.60,211.10 51.60,212.50 52.67,212.50 52.67,213.90 53.20,213.90 53.72,213.90 53.72,215.30 54.75,215.30 54.75,216.70 55.78,216.70 55.78,218.10 56.30,218.10 56.83,218.10 56.83,219.67 57.90,219.67 57.90,221.23 58.97,221.23 58.97,222.80 59.50,222.80 60.02,222.80 60.02,224.30 61.08,224.30 61.08,225.80 61.60,225.80 61.95,225.80 61.95,227.20 62.65,227.20 62.65,228.60 63.35,228.60 63.35,230.00 63.70,230.00 64.47,230.00 64.47,231.65 66.03,231.65 66.03,233.30 66.80,233.30 67.60,233.30 67.60,234.90 69.20,234.90 69.20,236.50 70.00,236.50 70.88,236.50 70.88,238.00 72.62,238.00 72.62,239.50 73.50,239.50 74.50,239.50 74.50,240.65 76.50,240.65 76.50,241.80 77.50,241.80 78.50,241.80 78.50,243.15 80.50,243.15 80.50,244.50 81.50,244.50 82.40,244.50 82.40,246.07 84.20,246.07 84.20,247.63 86.00,247.63 86.00,249.20 86.90,249.20 87.93,249.20 87.93,250.55 89.97,250.55 89.97,251.90 91.00,251.90 93.65,251.90 93.65,253.90 96.30,253.90 98.35,253.90 98.35,254.60 100.40,254.60 103.10,254.60 103.10,256.60 105.80,256.60 108.45,256.60 108.45,258.60 111.10,258.60 113.80,258.60 113.80,260.70 116.50,260.70 119.20,260.70 119.20,262.00 121.90,262.00 123.95,262.00 123.95,264.00 126.00,264.00 127.30,264.00 127.30,265.15 129.90,265.15 129.90,266.30 131.20,266.30 134.25,266.30 134.25,268.10 137.30,268.10 140.40,268.10 140.40,269.60 143.50,269.60 146.55,269.60 146.55,270.80 149.60,270.80 155.00,270.80 155.00,271.90 160.40,271.90 160.80,271.90 160.80,273.90 161.20,273.90 175.80,273.90 175.80,274.20 190.40,274.20 190.40,282.70 201.90,282.70" fill="none" stroke="#f0d27c" stroke-width="1.0" stroke-linejoin="miter" opacity="1"/>
<polyline points="24.50,183.30 25.45,183.30 25.45,184.80 27.35,184.80 27.35,186.30 28.30,186.30 29.90,186.30 29.90,188.20 31.50,188.20 32.27,188.20 32.27,189.45 33.83,189.45 33.83,190.70 34.60,190.70 36.50,190.70 36.50,192.60 38.40,192.60 38.70,192.60 38.70,193.85 39.30,193.85 39.30,195.10 39.60,195.10 39.77,195.10 39.77,196.70 40.12,196.70 40.12,198.30 40.30,198.30 40.60,198.30 40.60,199.85 41.20,199.85 41.20,201.40 41.50,201.40 42.75,201.40 42.75,202.70 44.00,202.70 45.60,202.70 45.60,204.30 47.20,204.30 48.60,204.30 48.60,206.00 50.00,206.00 51.05,206.00 51.05,206.60 52.10,206.60 52.50,206.60 52.50,208.18 53.30,208.18 53.30,209.75 54.10,209.75 54.10,211.32 54.90,211.32 54.90,212.90 55.30,212.90 55.69,212.90 55.69,214.47 56.46,214.47 56.46,216.05 57.24,216.05 57.24,217.62 58.01,217.62 58.01,219.20 58.40,219.20 58.67,219.20 58.67,220.75 59.23,220.75 59.23,222.30 59.50,222.30 62.65,222.30 62.65,224.40 65.80,224.40 70.00,224.40 70.00,224.90 74.20,224.90 75.25,224.90 75.25,226.75 77.35,226.75 77.35,228.60 78.40,228.60 79.95,228.60 79.95,230.20 81.50,230.20 82.83,230.20 82.83,231.50 85.47,231.50 85.47,232.80 86.80,232.80 89.40,232.80 89.40,234.60 92.00,234.60 93.33,234.60 93.33,235.80 95.97,235.80 95.97,237.00 97.30,237.00 98.85,237.00 98.85,238.80 100.40,238.80 102.95,238.80 102.95,240.70 105.50,240.70 108.15,240.70 108.15,242.80 110.80,242.80 113.40,242.80 113.40,244.20 116.00,244.20 118.65,244.20 118.65,245.60 121.30,245.60 123.90,245.60 123.90,247.20 126.50,247.20 128.05,247.20 128.05,248.80 129.60,248.80 131.90,248.80 131.90,249.60 134.20,249.60 136.50,249.60 136.50,251.20 138.80,251.20 149.60,251.20 149.60,251.50 160.40,251.50 169.60,251.50 169.60,255.80 172.70,255.80 172.70,256.50 175.80,256.50" fill="none" stroke="#2f8f3a" stroke-width="1.0" stroke-linejoin="miter" opacity="1"/>
<polyline points="24.50,183.30 25.45,183.30 25.45,184.50 27.35,184.50 27.35,185.70 28.30,185.70 29.90,185.70 29.90,186.00 31.50,186.00 32.27,186.00 32.27,187.40 33.83,187.40 33.83,188.80 34.60,188.80 36.20,188.80 36.20,190.40 37.80,190.40 39.35,190.40 39.35,192.00 40.90,192.00 42.45,192.00 42.45,192.90 44.00,192.90 45.60,192.90 45.60,194.50 47.20,194.50 47.90,194.50 47.90,195.80 49.30,195.80 49.30,197.10 50.00,197.10 51.33,197.10 51.33,198.70 53.97,198.70 53.97,200.30 55.30,200.30 57.90,200.30 57.90,201.80 60.50,201.80 63.15,201.80 63.15,202.90 65.80,202.90 67.35,202.90 67.35,202.60 68.90,202.60 69.43,202.60 69.43,204.05 70.47,204.05 70.47,205.50 71.00,205.50 73.65,205.50 73.65,207.60 76.30,207.60 77.60,207.60 77.60,208.90 80.20,208.90 80.20,210.20 81.50,210.20 84.15,210.20 84.15,212.30 86.80,212.30 89.40,212.30 89.40,213.40 92.00,213.40 93.60,213.40 93.60,214.50 95.20,214.50 96.70,214.50 96.70,215.50 98.20,215.50 98.97,215.50 98.97,216.80 100.53,216.80 100.53,218.10 101.30,218.10 103.40,218.10 103.40,219.20 105.50,219.20 108.15,219.20 108.15,220.80 110.80,220.80 111.85,220.80 111.85,222.30 112.90,222.30 118.15,222.30 118.15,222.60 123.40,222.60 124.45,222.60 124.45,224.40 125.50,224.40 126.55,224.40 126.55,226.00 127.60,226.00 129.70,226.00 129.70,227.10 131.80,227.10 134.40,227.10 134.40,228.60 137.00,228.60 139.10,228.60 139.10,230.20 141.20,230.20 142.12,230.20 142.12,231.57 143.95,231.57 143.95,232.93 145.78,232.93 145.78,234.30 146.70,234.30 151.75,234.30 151.75,235.30 156.80,235.30 157.65,235.30 157.65,237.00 159.35,237.00 159.35,238.70 160.20,238.70 169.45,238.70 169.45,239.00 178.70,239.00 179.10,239.00 179.10,241.20 179.50,241.20 204.70,241.20" fill="none" stroke="#3030c0" stroke-width="1.0" stroke-linejoin="miter" opacity="1"/>
<polyline points="24.50,183.30 25.45,183.30 25.45,184.60 27.35,184.60 27.35,185.90 28.30,185.90 29.88,185.90 29.88,187.60 33.02,187.60 33.02,189.30 34.60,189.30 36.17,189.30 36.17,190.95 39.33,190.95 39.33,192.60 40.90,192.60 42.48,192.60 42.48,194.00 45.62,194.00 45.62,195.40 47.20,195.40 47.90,195.40 47.90,196.80 49.30,196.80 49.30,198.20 50.00,198.20 51.33,198.20 51.33,199.50 53.97,199.50 53.97,200.80 55.30,200.80 57.90,200.80 57.90,202.90 60.50,202.90 62.10,202.90 62.10,204.50 63.70,204.50 64.22,204.50 64.22,205.80 65.28,205.80 65.28,207.10 65.80,207.10 67.10,207.10 67.10,208.40 69.70,208.40 69.70,209.70 71.00,209.70 73.65,209.70 73.65,211.80 76.30,211.80 77.60,211.80 77.60,213.65 80.20,213.65 80.20,215.50 81.50,215.50 82.83,215.50 82.83,217.05 85.47,217.05 85.47,218.60 86.80,218.60 88.10,218.60 88.10,220.20 90.70,220.20 90.70,221.80 92.00,221.80 94.65,221.80 94.65,223.40 97.30,223.40 98.80,223.40 98.80,225.00 100.30,225.00 101.60,225.00 101.60,226.30 104.20,226.30 104.20,227.60 105.50,227.60 108.15,227.60 108.15,229.70 110.80,229.70 113.40,229.70 113.40,231.30 116.00,231.30 118.65,231.30 118.65,232.30 121.30,232.30 123.90,232.30 123.90,233.90 126.50,233.90 129.15,233.90 129.15,236.00 131.80,236.00 133.10,236.00 133.10,237.30 135.70,237.30 135.70,238.60 137.00,238.60 138.32,238.60 138.32,240.20 140.98,240.20 140.98,241.80 142.30,241.80 143.35,241.80 143.35,243.15 145.45,243.15 145.45,244.50 146.50,244.50 148.82,244.50 148.82,246.30 153.48,246.30 153.48,248.10 155.80,248.10 157.33,248.10 157.33,249.65 160.38,249.65 160.38,251.20 161.90,251.20 169.60,251.20 170.75,251.20 170.75,252.35 173.05,252.35 173.05,253.50 174.20,253.50 174.47,253.50 174.47,254.77 175.00,254.77 175.00,256.03 175.53,256.03 175.53,257.30 175.80,257.30 204.20,257.30" fill="none" stroke="#d83030" stroke-width="1.0" stroke-linejoin="miter" opacity="1"/>
<line x1="90.00" y1="211.48" x2="90.00" y2="213.78" stroke="#20209a" stroke-width="0.9"/>
<line x1="92.50" y1="212.07" x2="92.50" y2="214.37" stroke="#20209a" stroke-width="0.9"/>
<line x1="95.00" y1="212.93" x2="95.00" y2="215.23" stroke="#20209a" stroke-width="0.9"/>
<line x1="97.50" y1="213.77" x2="97.50" y2="216.07" stroke="#20209a" stroke-width="0.9"/>
<line x1="100.00" y1="215.51" x2="100.00" y2="217.81" stroke="#20209a" stroke-width="0.9"/>
<line x1="102.50" y1="216.91" x2="102.50" y2="219.21" stroke="#20209a" stroke-width="0.9"/>
<line x1="105.00" y1="217.57" x2="105.00" y2="219.87" stroke="#20209a" stroke-width="0.9"/>
<line x1="107.50" y1="218.30" x2="107.50" y2="220.60" stroke="#20209a" stroke-width="0.9"/>
<line x1="110.00" y1="219.06" x2="110.00" y2="221.36" stroke="#20209a" stroke-width="0.9"/>
<line x1="112.50" y1="220.51" x2="112.50" y2="222.81" stroke="#20209a" stroke-width="0.9"/>
<line x1="115.00" y1="220.86" x2="115.00" y2="223.16" stroke="#20209a" stroke-width="0.9"/>
<line x1="117.50" y1="220.93" x2="117.50" y2="223.23" stroke="#20209a" stroke-width="0.9"/>
<line x1="120.00" y1="221.00" x2="120.00" y2="223.30" stroke="#20209a" stroke-width="0.9"/>
<line x1="122.50" y1="221.07" x2="122.50" y2="223.37" stroke="#20209a" stroke-width="0.9"/>
<line x1="125.00" y1="222.47" x2="125.00" y2="224.77" stroke="#20209a" stroke-width="0.9"/>
<line x1="127.50" y1="224.42" x2="127.50" y2="226.72" stroke="#20209a" stroke-width="0.9"/>
<line x1="130.00" y1="225.13" x2="130.00" y2="227.43" stroke="#20209a" stroke-width="0.9"/>
<line x1="132.50" y1="225.80" x2="132.50" y2="228.10" stroke="#20209a" stroke-width="0.9"/>
<line x1="135.00" y1="226.52" x2="135.00" y2="228.82" stroke="#20209a" stroke-width="0.9"/>
<line x1="137.50" y1="227.29" x2="137.50" y2="229.59" stroke="#20209a" stroke-width="0.9"/>
<line x1="140.00" y1="228.24" x2="140.00" y2="230.54" stroke="#20209a" stroke-width="0.9"/>
<line x1="142.50" y1="229.67" x2="142.50" y2="231.97" stroke="#20209a" stroke-width="0.9"/>
<line x1="145.00" y1="231.53" x2="145.00" y2="233.83" stroke="#20209a" stroke-width="0.9"/>
<line x1="147.50" y1="232.88" x2="147.50" y2="235.18" stroke="#20209a" stroke-width="0.9"/>
<line x1="150.00" y1="233.13" x2="150.00" y2="235.43" stroke="#20209a" stroke-width="0.9"/>
<line x1="152.50" y1="233.37" x2="152.50" y2="235.67" stroke="#20209a" stroke-width="0.9"/>
<line x1="155.00" y1="233.62" x2="155.00" y2="235.92" stroke="#20209a" stroke-width="0.9"/>
<line x1="157.50" y1="234.50" x2="157.50" y2="236.80" stroke="#20209a" stroke-width="0.9"/>
<line x1="160.00" y1="237.00" x2="160.00" y2="239.30" stroke="#20209a" stroke-width="0.9"/>
<line x1="162.50" y1="237.24" x2="162.50" y2="239.54" stroke="#20209a" stroke-width="0.9"/>
<line x1="165.00" y1="237.28" x2="165.00" y2="239.58" stroke="#20209a" stroke-width="0.9"/>
<line x1="167.50" y1="237.32" x2="167.50" y2="239.62" stroke="#20209a" stroke-width="0.9"/>
<line x1="170.00" y1="237.36" x2="170.00" y2="239.66" stroke="#20209a" stroke-width="0.9"/>
<line x1="172.50" y1="237.40" x2="172.50" y2="239.70" stroke="#20209a" stroke-width="0.9"/>
<line x1="175.00" y1="237.44" x2="175.00" y2="239.74" stroke="#20209a" stroke-width="0.9"/>
<line x1="177.50" y1="237.48" x2="177.50" y2="239.78" stroke="#20209a" stroke-width="0.9"/>
<line x1="180.00" y1="239.70" x2="180.00" y2="242.00" stroke="#20209a" stroke-width="0.9"/>
<line x1="182.50" y1="239.70" x2="182.50" y2="242.00" stroke="#20209a" stroke-width="0.9"/>
<line x1="185.00" y1="239.70" x2="185.00" y2="242.00" stroke="#20209a" stroke-width="0.9"/>
<line x1="187.50" y1="239.70" x2="187.50" y2="242.00" stroke="#20209a" stroke-width="0.9"/>
<line x1="190.00" y1="239.70" x2="190.00" y2="242.00" stroke="#20209a" stroke-width="0.9"/>
<line x1="192.50" y1="239.70" x2="192.50" y2="242.00" stroke="#20209a" stroke-width="0.9"/>
<line x1="195.00" y1="239.70" x2="195.00" y2="242.00" stroke="#20209a" stroke-width="0.9"/>
<line x1="197.50" y1="239.70" x2="197.50" y2="242.00" stroke="#20209a" stroke-width="0.9"/>
<line x1="200.00" y1="239.70" x2="200.00" y2="242.00" stroke="#20209a" stroke-width="0.9"/>
<line x1="202.50" y1="239.70" x2="202.50" y2="242.00" stroke="#20209a" stroke-width="0.9"/>
<line x1="100.00" y1="223.34" x2="100.00" y2="225.64" stroke="#b82020" stroke-width="0.9"/>
<line x1="102.60" y1="224.65" x2="102.60" y2="226.95" stroke="#b82020" stroke-width="0.9"/>
<line x1="105.20" y1="225.95" x2="105.20" y2="228.25" stroke="#b82020" stroke-width="0.9"/>
<line x1="107.80" y1="227.01" x2="107.80" y2="229.31" stroke="#b82020" stroke-width="0.9"/>
<line x1="110.40" y1="228.04" x2="110.40" y2="230.34" stroke="#b82020" stroke-width="0.9"/>
<line x1="113.00" y1="228.88" x2="113.00" y2="231.18" stroke="#b82020" stroke-width="0.9"/>
<line x1="115.60" y1="229.68" x2="115.60" y2="231.98" stroke="#b82020" stroke-width="0.9"/>
<line x1="118.20" y1="230.22" x2="118.20" y2="232.52" stroke="#b82020" stroke-width="0.9"/>
<line x1="120.80" y1="230.71" x2="120.80" y2="233.01" stroke="#b82020" stroke-width="0.9"/>
<line x1="123.40" y1="231.45" x2="123.40" y2="233.75" stroke="#b82020" stroke-width="0.9"/>
<line x1="126.00" y1="232.25" x2="126.00" y2="234.55" stroke="#b82020" stroke-width="0.9"/>
<line x1="128.60" y1="233.23" x2="128.60" y2="235.53" stroke="#b82020" stroke-width="0.9"/>
<line x1="131.20" y1="234.26" x2="131.20" y2="236.56" stroke="#b82020" stroke-width="0.9"/>
<line x1="133.80" y1="235.50" x2="133.80" y2="237.80" stroke="#b82020" stroke-width="0.9"/>
<line x1="136.40" y1="236.80" x2="136.40" y2="239.10" stroke="#b82020" stroke-width="0.9"/>
<line x1="139.00" y1="238.31" x2="139.00" y2="240.61" stroke="#b82020" stroke-width="0.9"/>
<line x1="141.60" y1="239.88" x2="141.60" y2="242.18" stroke="#b82020" stroke-width="0.9"/>
<line x1="144.20" y1="241.52" x2="144.20" y2="243.82" stroke="#b82020" stroke-width="0.9"/>
<line x1="146.80" y1="243.12" x2="146.80" y2="245.42" stroke="#b82020" stroke-width="0.9"/>
<line x1="149.40" y1="244.12" x2="149.40" y2="246.42" stroke="#b82020" stroke-width="0.9"/>
<line x1="152.00" y1="245.13" x2="152.00" y2="247.43" stroke="#b82020" stroke-width="0.9"/>
<line x1="154.60" y1="246.14" x2="154.60" y2="248.44" stroke="#b82020" stroke-width="0.9"/>
<line x1="157.20" y1="247.31" x2="157.20" y2="249.61" stroke="#b82020" stroke-width="0.9"/>
<line x1="159.80" y1="248.63" x2="159.80" y2="250.93" stroke="#b82020" stroke-width="0.9"/>
<line x1="162.40" y1="249.70" x2="162.40" y2="252.00" stroke="#b82020" stroke-width="0.9"/>
<line x1="165.00" y1="249.70" x2="165.00" y2="252.00" stroke="#b82020" stroke-width="0.9"/>
<line x1="167.60" y1="249.70" x2="167.60" y2="252.00" stroke="#b82020" stroke-width="0.9"/>
<line x1="170.20" y1="250.00" x2="170.20" y2="252.30" stroke="#b82020" stroke-width="0.9"/>
<line x1="172.80" y1="251.30" x2="172.80" y2="253.60" stroke="#b82020" stroke-width="0.9"/>
<line x1="175.40" y1="254.85" x2="175.40" y2="257.15" stroke="#b82020" stroke-width="0.9"/>
<line x1="178.00" y1="255.80" x2="178.00" y2="258.10" stroke="#b82020" stroke-width="0.9"/>
<line x1="180.60" y1="255.80" x2="180.60" y2="258.10" stroke="#b82020" stroke-width="0.9"/>
<line x1="183.20" y1="255.80" x2="183.20" y2="258.10" stroke="#b82020" stroke-width="0.9"/>
<line x1="185.80" y1="255.80" x2="185.80" y2="258.10" stroke="#b82020" stroke-width="0.9"/>
<line x1="188.40" y1="255.80" x2="188.40" y2="258.10" stroke="#b82020" stroke-width="0.9"/>
<line x1="191.00" y1="255.80" x2="191.00" y2="258.10" stroke="#b82020" stroke-width="0.9"/>
<line x1="193.60" y1="255.80" x2="193.60" y2="258.10" stroke="#b82020" stroke-width="0.9"/>
<line x1="196.20" y1="255.80" x2="196.20" y2="258.10" stroke="#b82020" stroke-width="0.9"/>
<line x1="198.80" y1="255.80" x2="198.80" y2="258.10" stroke="#b82020" stroke-width="0.9"/>
<line x1="201.40" y1="255.80" x2="201.40" y2="258.10" stroke="#b82020" stroke-width="0.9"/>
<line x1="204.00" y1="255.80" x2="204.00" y2="258.10" stroke="#b82020" stroke-width="0.9"/>
<line x1="85.00" y1="230.42" x2="85.00" y2="232.72" stroke="#1f6f2a" stroke-width="0.9"/>
<line x1="88.50" y1="231.89" x2="88.50" y2="234.19" stroke="#1f6f2a" stroke-width="0.9"/>
<line x1="92.00" y1="233.10" x2="92.00" y2="235.40" stroke="#1f6f2a" stroke-width="0.9"/>
<line x1="95.50" y1="234.68" x2="95.50" y2="236.98" stroke="#1f6f2a" stroke-width="0.9"/>
<line x1="99.00" y1="236.49" x2="99.00" y2="238.79" stroke="#1f6f2a" stroke-width="0.9"/>
<line x1="102.50" y1="238.08" x2="102.50" y2="240.38" stroke="#1f6f2a" stroke-width="0.9"/>
<line x1="106.00" y1="239.40" x2="106.00" y2="241.70" stroke="#1f6f2a" stroke-width="0.9"/>
<line x1="109.50" y1="240.78" x2="109.50" y2="243.08" stroke="#1f6f2a" stroke-width="0.9"/>
<line x1="113.00" y1="241.89" x2="113.00" y2="244.19" stroke="#1f6f2a" stroke-width="0.9"/>
<line x1="116.50" y1="242.83" x2="116.50" y2="245.13" stroke="#1f6f2a" stroke-width="0.9"/>
<line x1="120.00" y1="243.76" x2="120.00" y2="246.06" stroke="#1f6f2a" stroke-width="0.9"/>
<line x1="123.50" y1="244.78" x2="123.50" y2="247.08" stroke="#1f6f2a" stroke-width="0.9"/>
<line x1="127.00" y1="245.96" x2="127.00" y2="248.26" stroke="#1f6f2a" stroke-width="0.9"/>
<line x1="130.50" y1="247.46" x2="130.50" y2="249.76" stroke="#1f6f2a" stroke-width="0.9"/>
<line x1="134.00" y1="248.07" x2="134.00" y2="250.37" stroke="#1f6f2a" stroke-width="0.9"/>
<line x1="137.50" y1="249.25" x2="137.50" y2="251.55" stroke="#1f6f2a" stroke-width="0.9"/>
<line x1="141.00" y1="249.73" x2="141.00" y2="252.03" stroke="#1f6f2a" stroke-width="0.9"/>
<line x1="144.50" y1="249.78" x2="144.50" y2="252.08" stroke="#1f6f2a" stroke-width="0.9"/>
<line x1="148.00" y1="249.83" x2="148.00" y2="252.13" stroke="#1f6f2a" stroke-width="0.9"/>
<line x1="151.50" y1="249.88" x2="151.50" y2="252.18" stroke="#1f6f2a" stroke-width="0.9"/>
<line x1="155.00" y1="249.92" x2="155.00" y2="252.22" stroke="#1f6f2a" stroke-width="0.9"/>
<line x1="158.50" y1="249.97" x2="158.50" y2="252.27" stroke="#1f6f2a" stroke-width="0.9"/>
<line x1="162.00" y1="250.00" x2="162.00" y2="252.30" stroke="#1f6f2a" stroke-width="0.9"/>
<line x1="165.50" y1="250.00" x2="165.50" y2="252.30" stroke="#1f6f2a" stroke-width="0.9"/>
<line x1="169.00" y1="250.00" x2="169.00" y2="252.30" stroke="#1f6f2a" stroke-width="0.9"/>
<line x1="172.50" y1="254.63" x2="172.50" y2="256.93" stroke="#1f6f2a" stroke-width="0.9"/>
<line x1="110.00" y1="256.68" x2="110.00" y2="258.98" stroke="#e2bc5c" stroke-width="0.9"/>
<line x1="113.80" y1="258.15" x2="113.80" y2="260.45" stroke="#e2bc5c" stroke-width="0.9"/>
<line x1="117.60" y1="259.46" x2="117.60" y2="261.76" stroke="#e2bc5c" stroke-width="0.9"/>
<line x1="121.40" y1="260.38" x2="121.40" y2="262.68" stroke="#e2bc5c" stroke-width="0.9"/>
<line x1="125.20" y1="262.11" x2="125.20" y2="264.41" stroke="#e2bc5c" stroke-width="0.9"/>
<line x1="129.00" y1="263.83" x2="129.00" y2="266.13" stroke="#e2bc5c" stroke-width="0.9"/>
<line x1="132.80" y1="265.27" x2="132.80" y2="267.57" stroke="#e2bc5c" stroke-width="0.9"/>
<line x1="136.60" y1="266.39" x2="136.60" y2="268.69" stroke="#e2bc5c" stroke-width="0.9"/>
<line x1="140.40" y1="267.35" x2="140.40" y2="269.65" stroke="#e2bc5c" stroke-width="0.9"/>
<line x1="144.20" y1="268.24" x2="144.20" y2="270.54" stroke="#e2bc5c" stroke-width="0.9"/>
<line x1="148.00" y1="268.99" x2="148.00" y2="271.29" stroke="#e2bc5c" stroke-width="0.9"/>
<line x1="151.80" y1="269.52" x2="151.80" y2="271.82" stroke="#e2bc5c" stroke-width="0.9"/>
<line x1="155.60" y1="269.91" x2="155.60" y2="272.21" stroke="#e2bc5c" stroke-width="0.9"/>
<line x1="159.40" y1="270.30" x2="159.40" y2="272.60" stroke="#e2bc5c" stroke-width="0.9"/>
<line x1="163.20" y1="272.42" x2="163.20" y2="274.72" stroke="#e2bc5c" stroke-width="0.9"/>
<line x1="167.00" y1="272.46" x2="167.00" y2="274.76" stroke="#e2bc5c" stroke-width="0.9"/>
<line x1="170.80" y1="272.50" x2="170.80" y2="274.80" stroke="#e2bc5c" stroke-width="0.9"/>
<line x1="174.60" y1="272.54" x2="174.60" y2="274.84" stroke="#e2bc5c" stroke-width="0.9"/>
<line x1="178.40" y1="272.58" x2="178.40" y2="274.88" stroke="#e2bc5c" stroke-width="0.9"/>
<line x1="182.20" y1="272.62" x2="182.20" y2="274.92" stroke="#e2bc5c" stroke-width="0.9"/>
<line x1="186.00" y1="272.65" x2="186.00" y2="274.95" stroke="#e2bc5c" stroke-width="0.9"/>
<line x1="189.80" y1="272.69" x2="189.80" y2="274.99" stroke="#e2bc5c" stroke-width="0.9"/>
<line x1="193.60" y1="281.20" x2="193.60" y2="283.50" stroke="#e2bc5c" stroke-width="0.9"/>
<line x1="197.40" y1="281.20" x2="197.40" y2="283.50" stroke="#e2bc5c" stroke-width="0.9"/>
<text transform="translate(103.10,198.52) scale(1,1.12)" font-size="6.18" text-anchor="start" fill="#3a3eb8" stroke="#3a3eb8" stroke-width="0.15">a Thalidomide/no CA</text>
<text transform="translate(183.90,198.52) scale(1,1.12)" font-size="6.18" text-anchor="middle" fill="#3a3eb8" stroke="#3a3eb8" stroke-width="0.15">104 / 229</text>
<text transform="translate(214.70,198.52) scale(1,1.12)" font-size="6.18" text-anchor="end" fill="#3a3eb8" stroke="#3a3eb8" stroke-width="0.15">62%</text>
<text transform="translate(218.50,198.52) scale(1,1.12)" font-size="6.18" text-anchor="start" fill="#3a3eb8" stroke="#3a3eb8" stroke-width="0.15">(56,69)</text>
<text transform="translate(103.10,204.42) scale(1,1.12)" font-size="6.18" text-anchor="start" fill="#d44040" stroke="#d44040" stroke-width="0.15">b Control/no CA</text>
<text transform="translate(183.90,204.42) scale(1,1.12)" font-size="6.18" text-anchor="middle" fill="#d44040" stroke="#d44040" stroke-width="0.15">133 / 235</text>
<text transform="translate(214.70,204.42) scale(1,1.12)" font-size="6.18" text-anchor="end" fill="#d44040" stroke="#d44040" stroke-width="0.15">54%</text>
<text transform="translate(218.50,204.42) scale(1,1.12)" font-size="6.18" text-anchor="start" fill="#d44040" stroke="#d44040" stroke-width="0.15">(47,60)</text>
<text transform="translate(103.10,210.42) scale(1,1.12)" font-size="6.18" text-anchor="start" fill="#368c42" stroke="#368c42" stroke-width="0.15">c Thalidomide/CA</text>
<text transform="translate(183.90,210.42) scale(1,1.12)" font-size="6.18" text-anchor="middle" fill="#368c42" stroke="#368c42" stroke-width="0.15">58 / 93</text>
<text transform="translate(214.70,210.42) scale(1,1.12)" font-size="6.18" text-anchor="end" fill="#368c42" stroke="#368c42" stroke-width="0.15">41%</text>
<text transform="translate(218.50,210.42) scale(1,1.12)" font-size="6.18" text-anchor="start" fill="#368c42" stroke="#368c42" stroke-width="0.15">(31,52)</text>
<text transform="translate(103.10,216.32) scale(1,1.12)" font-size="6.18" text-anchor="start" fill="#f0bc5c" stroke="#f0bc5c" stroke-width="0.15">d Control/CA</text>
<text transform="translate(183.90,216.32) scale(1,1.12)" font-size="6.18" text-anchor="middle" fill="#f0bc5c" stroke="#f0bc5c" stroke-width="0.15">65 / 104</text>
<text transform="translate(214.70,216.32) scale(1,1.12)" font-size="6.18" text-anchor="end" fill="#f0bc5c" stroke="#f0bc5c" stroke-width="0.15">27%</text>
<text transform="translate(218.50,216.32) scale(1,1.12)" font-size="6.18" text-anchor="start" fill="#f0bc5c" stroke="#f0bc5c" stroke-width="0.15">(18,36)</text>
<text transform="translate(183.90,192.92) scale(1,1.12)" font-size="6.18" text-anchor="middle" fill="#1a1a1a" stroke="#1a1a1a" stroke-width="0.25">Events / N</text>
<text transform="translate(220.80,187.22) scale(1,1.12)" font-size="6.18" text-anchor="middle" fill="#1a1a1a" stroke="#1a1a1a" stroke-width="0.25">5-Year</text>
<text transform="translate(220.80,192.92) scale(1,1.12)" font-size="6.18" text-anchor="middle" fill="#1a1a1a" stroke="#1a1a1a" stroke-width="0.25">Estimate</text>
<text transform="translate(125.10,222.04) scale(1,1.12)" font-size="6.22" fill="#1a1a1a" stroke="#1a1a1a" stroke-width="0.25"><tspan font-style="italic">P</tspan>-values: a v b=0.02, c v d=0.01</text>
<text transform="translate(257.50,161.90) scale(1,1.0)" font-size="12" text-anchor="start" fill="#000" stroke="#000" stroke-width="0.7" font-weight="bold">C</text>
<text transform="translate(392.50,162.40) scale(1,1.0)" font-size="6.8" text-anchor="middle" fill="#1a1a1a" stroke="#1a1a1a" stroke-width="0.15">Years to Complete Response by Thalidomide</text>
<text transform="translate(392.50,168.80) scale(1,1.0)" font-size="6.8" text-anchor="middle" fill="#1a1a1a" stroke="#1a1a1a" stroke-width="0.15">and Cytogenetic Abnormalities</text>
<line x1="287.60" y1="174.40" x2="287.60" y2="290.90" stroke="#3a3a3a" stroke-width="1.3"/>
<line x1="284.10" y1="290.90" x2="498.00" y2="290.90" stroke="#3a3a3a" stroke-width="1.1"/>
<line x1="284.10" y1="290.90" x2="287.60" y2="290.90" stroke="#3a3a3a" stroke-width="0.9"/>
<text transform="translate(280.70,293.35) scale(1,1.06)" font-size="6.8" text-anchor="end" fill="#1a1a1a" stroke="#1a1a1a" stroke-width="0.24">0%</text>
<line x1="285.80" y1="279.25" x2="287.60" y2="279.25" stroke="#3a3a3a" stroke-width="0.9"/>
<line x1="284.10" y1="267.60" x2="287.60" y2="267.60" stroke="#3a3a3a" stroke-width="0.9"/>
<text transform="translate(280.70,270.05) scale(1,1.06)" font-size="6.8" text-anchor="end" fill="#1a1a1a" stroke="#1a1a1a" stroke-width="0.24">20%</text>
<line x1="285.80" y1="255.95" x2="287.60" y2="255.95" stroke="#3a3a3a" stroke-width="0.9"/>
<line x1="284.10" y1="244.30" x2="287.60" y2="244.30" stroke="#3a3a3a" stroke-width="0.9"/>
<text transform="translate(280.70,246.75) scale(1,1.06)" font-size="6.8" text-anchor="end" fill="#1a1a1a" stroke="#1a1a1a" stroke-width="0.24">40%</text>
<line x1="285.80" y1="232.65" x2="287.60" y2="232.65" stroke="#3a3a3a" stroke-width="0.9"/>
<line x1="284.10" y1="221.00" x2="287.60" y2="221.00" stroke="#3a3a3a" stroke-width="0.9"/>
<text transform="translate(280.70,223.45) scale(1,1.06)" font-size="6.8" text-anchor="end" fill="#1a1a1a" stroke="#1a1a1a" stroke-width="0.24">60%</text>
<line x1="285.80" y1="209.35" x2="287.60" y2="209.35" stroke="#3a3a3a" stroke-width="0.9"/>
<line x1="284.10" y1="197.70" x2="287.60" y2="197.70" stroke="#3a3a3a" stroke-width="0.9"/>
<text transform="translate(280.70,200.15) scale(1,1.06)" font-size="6.8" text-anchor="end" fill="#1a1a1a" stroke="#1a1a1a" stroke-width="0.24">80%</text>
<line x1="285.80" y1="186.05" x2="287.60" y2="186.05" stroke="#3a3a3a" stroke-width="0.9"/>
<line x1="284.10" y1="174.40" x2="287.60" y2="174.40" stroke="#3a3a3a" stroke-width="0.9"/>
<text transform="translate(280.70,176.85) scale(1,1.06)" font-size="6.8" text-anchor="end" fill="#1a1a1a" stroke="#1a1a1a" stroke-width="0.24">100%</text>
<line x1="287.60" y1="290.90" x2="287.60" y2="293.30" stroke="#3a3a3a" stroke-width="0.9"/>
<text transform="translate(287.60,300.00) scale(1,1.06)" font-size="6.8" text-anchor="middle" fill="#1a1a1a" stroke="#1a1a1a" stroke-width="0.24">0</text>
<line x1="313.90" y1="290.90" x2="313.90" y2="292.70" stroke="#3a3a3a" stroke-width="0.9"/>
<line x1="340.20" y1="290.90" x2="340.20" y2="293.30" stroke="#3a3a3a" stroke-width="0.9"/>
<text transform="translate(340.20,300.00) scale(1,1.06)" font-size="6.8" text-anchor="middle" fill="#1a1a1a" stroke="#1a1a1a" stroke-width="0.24">2</text>
<line x1="366.50" y1="290.90" x2="366.50" y2="292.70" stroke="#3a3a3a" stroke-width="0.9"/>
<line x1="392.80" y1="290.90" x2="392.80" y2="293.30" stroke="#3a3a3a" stroke-width="0.9"/>
<text transform="translate(392.80,300.00) scale(1,1.06)" font-size="6.8" text-anchor="middle" fill="#1a1a1a" stroke="#1a1a1a" stroke-width="0.24">4</text>
<line x1="419.10" y1="290.90" x2="419.10" y2="292.70" stroke="#3a3a3a" stroke-width="0.9"/>
<line x1="445.40" y1="290.90" x2="445.40" y2="293.30" stroke="#3a3a3a" stroke-width="0.9"/>
<text transform="translate(445.40,300.00) scale(1,1.06)" font-size="6.8" text-anchor="middle" fill="#1a1a1a" stroke="#1a1a1a" stroke-width="0.24">6</text>
<line x1="471.70" y1="290.90" x2="471.70" y2="292.70" stroke="#3a3a3a" stroke-width="0.9"/>
<line x1="498.00" y1="290.90" x2="498.00" y2="293.30" stroke="#3a3a3a" stroke-width="0.9"/>
<text transform="translate(498.00,300.00) scale(1,1.06)" font-size="6.8" text-anchor="middle" fill="#1a1a1a" stroke="#1a1a1a" stroke-width="0.24">8</text>
<text transform="translate(393.50,307.00) scale(1,1.0)" font-size="7.7" text-anchor="middle" fill="#1a1a1a" stroke="#1a1a1a" stroke-width="0.24">Years from start of treatment</text>
<polyline points="287.60,290.90 291.70,290.90 292.02,290.90 292.02,289.60 292.68,289.60 292.68,288.30 293.00,288.30 293.97,288.30 293.97,286.93 295.90,286.93 295.90,285.57 297.83,285.57 297.83,284.20 298.80,284.20 299.50,284.20 299.50,282.73 300.90,282.73 300.90,281.27 302.30,281.27 302.30,279.80 303.00,279.80 303.50,279.80 303.50,278.32 304.50,278.32 304.50,276.85 305.50,276.85 305.50,275.38 306.50,275.38 306.50,273.90 307.00,273.90 307.30,273.90 307.30,272.30 307.90,272.30 307.90,270.70 308.50,270.70 308.50,269.10 309.10,269.10 309.10,267.50 309.70,267.50 309.70,265.90 310.00,265.90 310.50,265.90 310.50,263.90 311.00,263.90 314.00,263.90 314.00,262.90 317.00,262.90 318.50,262.90 318.50,261.40 321.50,261.40 321.50,259.90 323.00,259.90 325.00,259.90 325.00,257.90 327.00,257.90 332.00,257.90 332.00,256.50 337.00,256.50 341.00,256.50 341.00,255.80 345.00,255.80 372.50,255.80 372.50,255.60 400.00,255.60" fill="none" stroke="#f0d27c" stroke-width="1.0" stroke-linejoin="miter" opacity="1"/>
<polyline points="287.60,290.90 291.70,290.90 291.92,290.90 291.92,289.20 292.35,289.20 292.35,287.50 292.78,287.50 292.78,285.80 293.00,285.80 293.88,285.80 293.88,284.45 295.62,284.45 295.62,283.10 296.50,283.10 296.88,283.10 296.88,281.57 297.62,281.57 297.62,280.03 298.38,280.03 298.38,278.50 299.12,278.50 299.12,276.97 299.88,276.97 299.88,275.43 300.62,275.43 300.62,273.90 301.00,273.90 301.38,273.90 301.38,272.40 302.12,272.40 302.12,270.90 302.88,270.90 302.88,269.40 303.62,269.40 303.62,267.90 304.38,267.90 304.38,266.40 305.12,266.40 305.12,264.90 305.88,264.90 305.88,263.40 306.62,263.40 306.62,261.90 307.00,261.90 307.50,261.90 307.50,260.40 308.50,260.40 308.50,258.90 309.50,258.90 309.50,257.40 310.50,257.40 310.50,255.90 311.50,255.90 311.50,254.40 312.50,254.40 312.50,252.90 313.00,252.90 314.00,252.90 314.00,251.40 316.00,251.40 316.00,249.90 317.00,249.90 318.33,249.90 318.33,248.57 321.00,248.57 321.00,247.23 323.67,247.23 323.67,245.90 325.00,245.90 326.25,245.90 326.25,244.40 328.75,244.40 328.75,242.90 331.25,242.90 331.25,241.40 333.75,241.40 333.75,239.90 335.00,239.90 340.00,239.90 340.00,237.90 345.00,237.90 349.00,237.90 349.00,236.40 357.00,236.40 357.00,234.90 361.00,234.90 365.50,234.90 365.50,234.60 370.00,234.60 384.40,234.60 384.40,233.10 398.80,233.10 413.20,233.10 413.20,231.10 427.60,231.10 442.05,231.10 442.05,230.30 456.50,230.30 462.95,230.30 462.95,229.70 469.40,229.70" fill="none" stroke="#d83030" stroke-width="1.0" stroke-linejoin="miter" opacity="1"/>
<polyline points="287.60,290.90 291.70,290.90 291.83,290.90 291.83,289.52 292.09,289.52 292.09,288.14 292.35,288.14 292.35,286.76 292.61,286.76 292.61,285.38 292.87,285.38 292.87,284.00 293.00,284.00 293.50,284.00 293.50,282.67 294.50,282.67 294.50,281.33 295.50,281.33 295.50,280.00 296.00,280.00 296.25,280.00 296.25,278.42 296.75,278.42 296.75,276.83 297.25,276.83 297.25,275.25 297.75,275.25 297.75,273.67 298.25,273.67 298.25,272.08 298.75,272.08 298.75,270.50 299.00,270.50 299.50,270.50 299.50,268.88 300.50,268.88 300.50,267.25 301.50,267.25 301.50,265.62 302.50,265.62 302.50,264.00 303.00,264.00 303.40,264.00 303.40,262.60 304.20,262.60 304.20,261.20 305.00,261.20 305.00,259.80 305.80,259.80 305.80,258.40 306.60,258.40 306.60,257.00 307.00,257.00 307.33,257.00 307.33,255.50 308.00,255.50 308.00,254.00 308.67,254.00 308.67,252.50 309.33,252.50 309.33,251.00 310.00,251.00 310.00,249.50 310.67,249.50 310.67,248.00 311.00,248.00 312.00,248.00 312.00,245.90 313.00,245.90 314.20,245.90 314.20,244.30 316.60,244.30 316.60,242.70 319.00,242.70 319.00,241.10 321.40,241.10 321.40,239.50 323.80,239.50 323.80,237.90 325.00,237.90 328.00,237.90 328.00,236.90 331.00,236.90 337.00,236.90 338.00,236.90 338.00,235.40 340.00,235.40 340.00,233.90 341.00,233.90 346.00,233.90 346.00,231.90 351.00,231.90 356.00,231.90 356.00,229.90 361.00,229.90 363.50,229.90 363.50,228.10 368.50,228.10 368.50,226.30 371.00,226.30 390.65,226.30 390.65,224.50 410.30,224.50 411.75,224.50 411.75,223.60 413.20,223.60 420.40,223.60" fill="none" stroke="#2f8f3a" stroke-width="1.0" stroke-linejoin="miter" opacity="1"/>
<polyline points="287.60,290.90 291.70,290.90 291.85,290.90 291.85,289.80 292.00,289.80 292.10,289.80 292.10,288.40 292.30,288.40 292.30,287.00 292.50,287.00 292.50,285.60 292.70,285.60 292.70,284.20 292.90,284.20 292.90,282.80 293.00,282.80 293.75,282.80 293.75,281.30 295.25,281.30 295.25,279.80 296.00,279.80 296.21,279.80 296.21,278.39 296.64,278.39 296.64,276.97 297.07,276.97 297.07,275.56 297.50,275.56 297.50,274.14 297.93,274.14 297.93,272.73 298.36,272.73 298.36,271.31 298.79,271.31 298.79,269.90 299.00,269.90 299.50,269.90 299.50,268.40 300.50,268.40 300.50,266.90 301.50,266.90 301.50,265.40 302.50,265.40 302.50,263.90 303.00,263.90 303.50,263.90 303.50,262.40 304.50,262.40 304.50,260.90 305.50,260.90 305.50,259.40 306.50,259.40 306.50,257.90 307.00,257.90 307.40,257.90 307.40,256.30 308.20,256.30 308.20,254.70 309.00,254.70 309.00,253.10 309.80,253.10 309.80,251.50 310.60,251.50 310.60,249.90 311.00,249.90 311.50,249.90 311.50,248.57 312.50,248.57 312.50,247.23 313.50,247.23 313.50,245.90 314.00,245.90 315.50,245.90 315.50,243.90 317.00,243.90 318.33,243.90 318.33,242.23 321.00,242.23 321.00,240.57 323.67,240.57 323.67,238.90 325.00,238.90 326.00,238.90 326.00,237.57 328.00,237.57 328.00,236.23 330.00,236.23 330.00,234.90 331.00,234.90 332.00,234.90 332.00,233.23 334.00,233.23 334.00,231.57 336.00,231.57 336.00,229.90 337.00,229.90 340.00,229.90 340.00,227.90 343.00,227.90 347.00,227.90 347.00,225.90 351.00,225.90 352.50,225.90 352.50,224.45 355.50,224.45 355.50,223.00 357.00,223.00 358.00,223.00 358.00,221.50 360.00,221.50 360.00,220.00 361.00,220.00 365.00,220.00 365.00,218.00 369.00,218.00 379.00,218.00 382.00,218.00 382.00,216.40 385.00,216.40 391.90,216.40 391.90,214.40 398.80,214.40 406.00,214.40 406.00,213.00 413.20,213.00 417.55,213.00 417.55,212.10 421.90,212.10 488.20,212.10" fill="none" stroke="#3030c0" stroke-width="1.0" stroke-linejoin="miter" opacity="1"/>
<text transform="translate(385.10,260.88) scale(1,1.12)" font-size="6.62" text-anchor="start" fill="#3a3eb8" stroke="#3a3eb8" stroke-width="0.15">a Thalidomide/no CA</text>
<text transform="translate(470.40,260.88) scale(1,1.12)" font-size="6.62" text-anchor="middle" fill="#3a3eb8" stroke="#3a3eb8" stroke-width="0.15">148 / 221</text>
<text transform="translate(510.40,260.88) scale(1,1.12)" font-size="6.62" text-anchor="end" fill="#3a3eb8" stroke="#3a3eb8" stroke-width="0.15">62%</text>
<text transform="translate(385.10,266.98) scale(1,1.12)" font-size="6.62" text-anchor="start" fill="#d44040" stroke="#d44040" stroke-width="0.15">b Control/no CA</text>
<text transform="translate(470.40,266.98) scale(1,1.12)" font-size="6.62" text-anchor="middle" fill="#d44040" stroke="#d44040" stroke-width="0.15">117 / 228</text>
<text transform="translate(510.40,266.98) scale(1,1.12)" font-size="6.62" text-anchor="end" fill="#d44040" stroke="#d44040" stroke-width="0.15">48%</text>
<text transform="translate(385.10,273.28) scale(1,1.12)" font-size="6.62" text-anchor="start" fill="#368c42" stroke="#368c42" stroke-width="0.15">c Thalidomide/CA</text>
<text transform="translate(470.40,273.28) scale(1,1.12)" font-size="6.62" text-anchor="middle" fill="#368c42" stroke="#368c42" stroke-width="0.15">52 / 91</text>
<text transform="translate(510.40,273.28) scale(1,1.12)" font-size="6.62" text-anchor="end" fill="#368c42" stroke="#368c42" stroke-width="0.15">54%</text>
<text transform="translate(385.10,279.58) scale(1,1.12)" font-size="6.62" text-anchor="start" fill="#f0bc5c" stroke="#f0bc5c" stroke-width="0.15">d Control/CA</text>
<text transform="translate(470.40,279.58) scale(1,1.12)" font-size="6.62" text-anchor="middle" fill="#f0bc5c" stroke="#f0bc5c" stroke-width="0.15">31 / 103</text>
<text transform="translate(510.40,279.58) scale(1,1.12)" font-size="6.62" text-anchor="end" fill="#f0bc5c" stroke="#f0bc5c" stroke-width="0.15">30%</text>
<text transform="translate(470.40,254.78) scale(1,1.12)" font-size="6.62" text-anchor="middle" fill="#1a1a1a" stroke="#1a1a1a" stroke-width="0.25">Events / N</text>
<text transform="translate(504.00,247.88) scale(1,1.12)" font-size="6.62" text-anchor="middle" fill="#1a1a1a" stroke="#1a1a1a" stroke-width="0.25">3-Year</text>
<text transform="translate(504.00,254.78) scale(1,1.12)" font-size="6.62" text-anchor="middle" fill="#1a1a1a" stroke="#1a1a1a" stroke-width="0.25">Estimate</text>
<text transform="translate(400.40,287.47) scale(1,1.12)" font-size="6.87" fill="#1a1a1a" stroke="#1a1a1a" stroke-width="0.25"><tspan font-style="italic">P</tspan>-value: a v b= .005, c v d=0.0006</text>
<text transform="translate(0.30,331.20) scale(1,1.0)" font-size="12" text-anchor="start" fill="#000" stroke="#000" stroke-width="0.7" font-weight="bold">D</text>
<text transform="translate(122.80,341.00) scale(1,1.0)" font-size="6.43" text-anchor="middle" fill="#1a1a1a" stroke="#1a1a1a" stroke-width="0.15">Duration of Complete Response by Thalidomide and Cytogenetic Abnormalities</text>
<line x1="23.20" y1="347.50" x2="23.20" y2="458.00" stroke="#3a3a3a" stroke-width="1.3"/>
<line x1="19.70" y1="458.00" x2="222.70" y2="458.00" stroke="#3a3a3a" stroke-width="1.1"/>
<line x1="19.70" y1="458.00" x2="23.20" y2="458.00" stroke="#3a3a3a" stroke-width="0.9"/>
<text transform="translate(17.30,460.34) scale(1,1.06)" font-size="6.5" text-anchor="end" fill="#1a1a1a" stroke="#1a1a1a" stroke-width="0.24">0%</text>
<line x1="21.40" y1="446.95" x2="23.20" y2="446.95" stroke="#3a3a3a" stroke-width="0.9"/>
<line x1="19.70" y1="435.90" x2="23.20" y2="435.90" stroke="#3a3a3a" stroke-width="0.9"/>
<text transform="translate(17.30,438.24) scale(1,1.06)" font-size="6.5" text-anchor="end" fill="#1a1a1a" stroke="#1a1a1a" stroke-width="0.24">20%</text>
<line x1="21.40" y1="424.85" x2="23.20" y2="424.85" stroke="#3a3a3a" stroke-width="0.9"/>
<line x1="19.70" y1="413.80" x2="23.20" y2="413.80" stroke="#3a3a3a" stroke-width="0.9"/>
<text transform="translate(17.30,416.14) scale(1,1.06)" font-size="6.5" text-anchor="end" fill="#1a1a1a" stroke="#1a1a1a" stroke-width="0.24">40%</text>
<line x1="21.40" y1="402.75" x2="23.20" y2="402.75" stroke="#3a3a3a" stroke-width="0.9"/>
<line x1="19.70" y1="391.70" x2="23.20" y2="391.70" stroke="#3a3a3a" stroke-width="0.9"/>
<text transform="translate(17.30,394.04) scale(1,1.06)" font-size="6.5" text-anchor="end" fill="#1a1a1a" stroke="#1a1a1a" stroke-width="0.24">60%</text>
<line x1="21.40" y1="380.65" x2="23.20" y2="380.65" stroke="#3a3a3a" stroke-width="0.9"/>
<line x1="19.70" y1="369.60" x2="23.20" y2="369.60" stroke="#3a3a3a" stroke-width="0.9"/>
<text transform="translate(17.30,371.94) scale(1,1.06)" font-size="6.5" text-anchor="end" fill="#1a1a1a" stroke="#1a1a1a" stroke-width="0.24">80%</text>
<line x1="21.40" y1="358.55" x2="23.20" y2="358.55" stroke="#3a3a3a" stroke-width="0.9"/>
<line x1="19.70" y1="347.50" x2="23.20" y2="347.50" stroke="#3a3a3a" stroke-width="0.9"/>
<text transform="translate(17.30,349.84) scale(1,1.06)" font-size="6.5" text-anchor="end" fill="#1a1a1a" stroke="#1a1a1a" stroke-width="0.24">100%</text>
<line x1="23.20" y1="458.00" x2="23.20" y2="460.40" stroke="#3a3a3a" stroke-width="0.9"/>
<text transform="translate(23.20,466.70) scale(1,1.06)" font-size="6.5" text-anchor="middle" fill="#1a1a1a" stroke="#1a1a1a" stroke-width="0.24">0</text>
<line x1="43.15" y1="458.00" x2="43.15" y2="459.80" stroke="#3a3a3a" stroke-width="0.9"/>
<line x1="63.10" y1="458.00" x2="63.10" y2="460.40" stroke="#3a3a3a" stroke-width="0.9"/>
<text transform="translate(63.10,466.70) scale(1,1.06)" font-size="6.5" text-anchor="middle" fill="#1a1a1a" stroke="#1a1a1a" stroke-width="0.24">2</text>
<line x1="83.05" y1="458.00" x2="83.05" y2="459.80" stroke="#3a3a3a" stroke-width="0.9"/>
<line x1="103.00" y1="458.00" x2="103.00" y2="460.40" stroke="#3a3a3a" stroke-width="0.9"/>
<text transform="translate(103.00,466.70) scale(1,1.06)" font-size="6.5" text-anchor="middle" fill="#1a1a1a" stroke="#1a1a1a" stroke-width="0.24">4</text>
<line x1="122.95" y1="458.00" x2="122.95" y2="459.80" stroke="#3a3a3a" stroke-width="0.9"/>
<line x1="142.90" y1="458.00" x2="142.90" y2="460.40" stroke="#3a3a3a" stroke-width="0.9"/>
<text transform="translate(142.90,466.70) scale(1,1.06)" font-size="6.5" text-anchor="middle" fill="#1a1a1a" stroke="#1a1a1a" stroke-width="0.24">6</text>
<line x1="162.85" y1="458.00" x2="162.85" y2="459.80" stroke="#3a3a3a" stroke-width="0.9"/>
<line x1="182.80" y1="458.00" x2="182.80" y2="460.40" stroke="#3a3a3a" stroke-width="0.9"/>
<text transform="translate(182.80,466.70) scale(1,1.06)" font-size="6.5" text-anchor="middle" fill="#1a1a1a" stroke="#1a1a1a" stroke-width="0.24">8</text>
<line x1="202.75" y1="458.00" x2="202.75" y2="459.80" stroke="#3a3a3a" stroke-width="0.9"/>
<line x1="222.70" y1="458.00" x2="222.70" y2="460.40" stroke="#3a3a3a" stroke-width="0.9"/>
<text transform="translate(222.70,466.70) scale(1,1.06)" font-size="6.5" text-anchor="middle" fill="#1a1a1a" stroke="#1a1a1a" stroke-width="0.24">10</text>
<text transform="translate(123.60,472.80) scale(1,1.0)" font-size="7.2" text-anchor="middle" fill="#1a1a1a" stroke="#1a1a1a" stroke-width="0.24">Years from complete remission</text>
<polyline points="23.20,347.50 26.80,347.50 26.80,348.00 30.40,348.00 30.97,348.00 30.97,349.40 32.10,349.40 32.10,350.80 33.23,350.80 33.23,352.20 33.80,352.20 34.35,352.20 34.35,353.60 35.45,353.60 35.45,355.00 36.55,355.00 36.55,356.40 37.10,356.40 37.95,356.40 37.95,358.10 39.65,358.10 39.65,359.80 40.50,359.80 40.91,359.80 40.91,361.27 41.74,361.27 41.74,362.75 42.56,362.75 42.56,364.23 43.39,364.23 43.39,365.70 43.80,365.70 44.37,365.70 44.37,367.10 45.50,367.10 45.50,368.50 46.63,368.50 46.63,369.90 47.20,369.90 47.41,369.90 47.41,371.30 47.83,371.30 47.83,372.70 48.24,372.70 48.24,374.10 48.66,374.10 48.66,375.50 49.08,375.50 49.08,376.90 49.49,376.90 49.49,378.30 49.70,378.30 54.75,378.30 54.75,379.10 59.80,379.10 60.22,379.10 60.22,380.50 61.05,380.50 61.05,381.90 61.88,381.90 61.88,383.30 62.30,383.30 62.95,383.30 62.95,385.00 64.25,385.00 64.25,386.70 64.90,386.70 65.21,386.70 65.21,388.38 65.84,388.38 65.84,390.05 66.46,390.05 66.46,391.72 67.09,391.72 67.09,393.40 67.40,393.40 67.71,393.40 67.71,395.07 68.34,395.07 68.34,396.75 68.96,396.75 68.96,398.43 69.59,398.43 69.59,400.10 69.90,400.10 70.21,400.10 70.21,401.58 70.84,401.58 70.84,403.05 71.46,403.05 71.46,404.52 72.09,404.52 72.09,406.00 72.40,406.00 74.95,406.00 74.95,406.90 77.50,406.90 80.00,406.90 80.00,407.70 82.50,407.70 82.81,407.70 82.81,409.18 83.44,409.18 83.44,410.65 84.06,410.65 84.06,412.12 84.69,412.12 84.69,413.60 85.00,413.60 87.95,413.60 87.95,414.40 90.90,414.40 91.47,414.40 91.47,416.10 92.60,416.10 92.60,417.80 93.73,417.80 93.73,419.50 94.30,419.50 94.58,419.50 94.58,421.00 95.15,421.00 95.15,422.50 95.72,422.50 95.72,424.00 96.00,424.00 99.00,424.00 99.00,425.00 102.00,425.00 102.17,425.00 102.17,426.33 102.50,426.33 102.50,427.67 102.83,427.67 102.83,429.00 103.00,429.00 117.00,429.00 117.00,429.50 131.00,429.50 131.17,429.50 131.17,430.83 131.50,430.83 131.50,432.17 131.83,432.17 131.83,433.50 132.00,433.50 196.60,433.50" fill="none" stroke="#f0d27c" stroke-width="1.0" stroke-linejoin="miter" opacity="1"/>
<polyline points="23.20,347.50 28.70,347.50 28.91,347.50 28.91,348.88 29.34,348.88 29.34,350.25 29.76,350.25 29.76,351.62 30.19,351.62 30.19,353.00 30.40,353.00 30.48,353.00 30.48,354.36 30.64,354.36 30.64,355.72 30.80,355.72 30.80,357.08 30.96,357.08 30.96,358.44 31.12,358.44 31.12,359.80 31.20,359.80 37.10,359.80 37.95,359.80 37.95,361.50 38.80,361.50 39.65,361.50 39.65,362.75 41.35,362.75 41.35,364.00 42.20,364.00 42.90,364.00 42.90,365.40 44.30,365.40 44.30,366.80 45.70,366.80 45.70,368.20 46.40,368.20 46.67,368.20 46.67,369.90 47.20,369.90 47.20,371.60 47.73,371.60 47.73,373.30 48.00,373.30 48.85,373.30 48.85,374.90 49.70,374.90 64.90,374.90 65.53,374.90 65.53,376.60 66.78,376.60 66.78,378.30 67.40,378.30 67.95,378.30 67.95,379.97 69.05,379.97 69.05,381.63 70.15,381.63 70.15,383.30 70.70,383.30 72.80,383.30 72.80,384.20 74.90,384.20 75.33,384.20 75.33,385.60 76.20,385.60 76.20,387.00 77.07,387.00 77.07,388.40 77.50,388.40 78.75,388.40 78.75,390.05 81.25,390.05 81.25,391.70 82.50,391.70 85.25,391.70 85.25,393.40 88.00,393.40 88.38,393.40 88.38,395.00 89.12,395.00 89.12,396.60 89.50,396.60 93.20,396.60 93.20,397.70 96.90,397.70 101.55,397.70 101.55,398.90 106.20,398.90 108.50,398.90 108.50,400.05 113.10,400.05 113.10,401.20 115.40,401.20 116.55,401.20 116.55,402.90 118.85,402.90 118.85,404.60 120.00,404.60 120.88,404.60 120.88,406.35 122.62,406.35 122.62,408.10 123.50,408.10 124.05,408.10 124.05,410.20 124.60,410.20 189.50,410.20" fill="none" stroke="#2f8f3a" stroke-width="1.0" stroke-linejoin="miter" opacity="1"/>
<polyline points="23.20,347.50 30.00,347.50 31.45,347.50 31.45,347.00 32.90,347.00 33.52,347.00 33.52,348.35 34.77,348.35 34.77,349.70 35.40,349.70 37.95,349.70 37.95,350.60 40.50,350.60 41.34,350.60 41.34,352.05 43.01,352.05 43.01,353.50 44.69,353.50 44.69,354.95 46.36,354.95 46.36,356.40 47.20,356.40 48.88,356.40 48.88,358.10 52.23,358.10 52.23,359.80 53.90,359.80 54.47,359.80 54.47,361.20 55.60,361.20 55.60,362.60 56.73,362.60 56.73,364.00 57.30,364.00 59.80,364.00 59.80,365.70 62.30,365.70 65.70,365.70 65.70,367.40 69.10,367.40 70.77,367.40 70.77,368.65 74.12,368.65 74.12,369.90 75.80,369.90 76.08,369.90 76.08,371.30 76.65,371.30 76.65,372.70 77.22,372.70 77.22,374.10 77.50,374.10 80.85,374.10 80.85,374.90 84.20,374.90 84.83,374.90 84.83,376.60 86.08,376.60 86.08,378.30 86.70,378.30 88.17,378.30 88.17,379.55 91.12,379.55 91.12,380.80 92.60,380.80 94.95,380.80 94.95,382.05 99.65,382.05 99.65,383.30 102.00,383.30 103.12,383.30 103.12,384.75 105.38,384.75 105.38,386.20 106.50,386.20 109.40,386.20 109.40,387.90 115.20,387.90 115.20,389.60 118.10,389.60 120.97,389.60 120.97,390.75 126.72,390.75 126.72,391.90 129.60,391.90 132.50,391.90 132.50,393.05 138.30,393.05 138.30,394.20 141.20,394.20 142.35,394.20 142.35,395.40 144.65,395.40 144.65,396.60 145.80,396.60 155.05,396.60 155.05,397.30 164.30,397.30 164.30,401.20 203.50,401.20" fill="none" stroke="#d83030" stroke-width="1.0" stroke-linejoin="miter" opacity="1"/>
<polyline points="23.20,347.50 30.40,347.50 31.25,347.50 31.25,349.70 32.10,349.70 33.35,349.70 33.35,351.35 35.85,351.35 35.85,353.00 37.10,353.00 38.77,353.00 38.77,354.30 42.12,354.30 42.12,355.60 43.80,355.60 46.35,355.60 46.35,357.30 48.90,357.30 52.25,357.30 52.25,359.00 55.60,359.00 56.45,359.00 56.45,360.40 58.15,360.40 58.15,361.80 59.85,361.80 59.85,363.20 60.70,363.20 61.95,363.20 61.95,364.45 64.45,364.45 64.45,365.70 65.70,365.70 67.38,365.70 67.38,366.95 70.73,366.95 70.73,368.20 72.40,368.20 74.08,368.20 74.08,369.45 77.42,369.45 77.42,370.70 79.10,370.70 81.65,370.70 81.65,372.40 84.20,372.40 86.70,372.40 86.70,374.10 89.20,374.10 89.40,374.10 89.40,375.50 89.80,375.50 89.80,376.90 90.00,376.90 93.45,376.90 93.45,378.10 96.90,378.10 98.65,378.10 98.65,379.80 102.15,379.80 102.15,381.50 103.90,381.50 106.20,381.50 106.20,383.25 110.80,383.25 110.80,385.00 113.10,385.00 115.40,385.00 115.40,386.75 120.00,386.75 120.00,388.50 122.30,388.50 125.77,388.50 125.77,390.20 132.72,390.20 132.72,391.90 136.20,391.90 138.50,391.90 138.50,393.05 143.10,393.05 143.10,394.20 145.40,394.20 147.70,394.20 147.70,394.90 150.00,394.90 200.90,394.90" fill="none" stroke="#3030c0" stroke-width="1.0" stroke-linejoin="miter" opacity="1"/>
<line x1="45.00" y1="354.50" x2="45.00" y2="356.80" stroke="#20209a" stroke-width="0.9"/>
<line x1="47.60" y1="355.37" x2="47.60" y2="357.67" stroke="#20209a" stroke-width="0.9"/>
<line x1="50.20" y1="356.13" x2="50.20" y2="358.43" stroke="#20209a" stroke-width="0.9"/>
<line x1="52.80" y1="356.79" x2="52.80" y2="359.09" stroke="#20209a" stroke-width="0.9"/>
<line x1="55.40" y1="357.45" x2="55.40" y2="359.75" stroke="#20209a" stroke-width="0.9"/>
<line x1="58.00" y1="359.48" x2="58.00" y2="361.78" stroke="#20209a" stroke-width="0.9"/>
<line x1="60.60" y1="361.62" x2="60.60" y2="363.92" stroke="#20209a" stroke-width="0.9"/>
<line x1="63.20" y1="362.95" x2="63.20" y2="365.25" stroke="#20209a" stroke-width="0.9"/>
<line x1="65.80" y1="364.24" x2="65.80" y2="366.54" stroke="#20209a" stroke-width="0.9"/>
<line x1="68.40" y1="365.21" x2="68.40" y2="367.51" stroke="#20209a" stroke-width="0.9"/>
<line x1="71.00" y1="366.18" x2="71.00" y2="368.48" stroke="#20209a" stroke-width="0.9"/>
<line x1="73.60" y1="367.15" x2="73.60" y2="369.45" stroke="#20209a" stroke-width="0.9"/>
<line x1="76.20" y1="368.12" x2="76.20" y2="370.42" stroke="#20209a" stroke-width="0.9"/>
<line x1="78.80" y1="369.09" x2="78.80" y2="371.39" stroke="#20209a" stroke-width="0.9"/>
<line x1="81.40" y1="369.97" x2="81.40" y2="372.27" stroke="#20209a" stroke-width="0.9"/>
<line x1="84.00" y1="370.83" x2="84.00" y2="373.13" stroke="#20209a" stroke-width="0.9"/>
<line x1="86.60" y1="371.72" x2="86.60" y2="374.02" stroke="#20209a" stroke-width="0.9"/>
<line x1="89.20" y1="372.60" x2="89.20" y2="374.90" stroke="#20209a" stroke-width="0.9"/>
<line x1="91.80" y1="375.71" x2="91.80" y2="378.01" stroke="#20209a" stroke-width="0.9"/>
<line x1="94.40" y1="376.17" x2="94.40" y2="378.47" stroke="#20209a" stroke-width="0.9"/>
<line x1="97.00" y1="376.65" x2="97.00" y2="378.95" stroke="#20209a" stroke-width="0.9"/>
<line x1="99.60" y1="377.91" x2="99.60" y2="380.21" stroke="#20209a" stroke-width="0.9"/>
<line x1="102.20" y1="379.17" x2="102.20" y2="381.47" stroke="#20209a" stroke-width="0.9"/>
<line x1="104.80" y1="380.34" x2="104.80" y2="382.64" stroke="#20209a" stroke-width="0.9"/>
<line x1="107.40" y1="381.33" x2="107.40" y2="383.63" stroke="#20209a" stroke-width="0.9"/>
<line x1="110.00" y1="382.32" x2="110.00" y2="384.62" stroke="#20209a" stroke-width="0.9"/>
<line x1="112.60" y1="383.31" x2="112.60" y2="385.61" stroke="#20209a" stroke-width="0.9"/>
<line x1="115.20" y1="384.30" x2="115.20" y2="386.60" stroke="#20209a" stroke-width="0.9"/>
<line x1="117.80" y1="385.29" x2="117.80" y2="387.59" stroke="#20209a" stroke-width="0.9"/>
<line x1="120.40" y1="386.28" x2="120.40" y2="388.58" stroke="#20209a" stroke-width="0.9"/>
<line x1="123.00" y1="387.17" x2="123.00" y2="389.47" stroke="#20209a" stroke-width="0.9"/>
<line x1="125.60" y1="387.81" x2="125.60" y2="390.11" stroke="#20209a" stroke-width="0.9"/>
<line x1="128.20" y1="388.44" x2="128.20" y2="390.74" stroke="#20209a" stroke-width="0.9"/>
<line x1="130.80" y1="389.08" x2="130.80" y2="391.38" stroke="#20209a" stroke-width="0.9"/>
<line x1="133.40" y1="389.72" x2="133.40" y2="392.02" stroke="#20209a" stroke-width="0.9"/>
<line x1="136.00" y1="390.35" x2="136.00" y2="392.65" stroke="#20209a" stroke-width="0.9"/>
<line x1="138.60" y1="391.00" x2="138.60" y2="393.30" stroke="#20209a" stroke-width="0.9"/>
<line x1="141.20" y1="391.65" x2="141.20" y2="393.95" stroke="#20209a" stroke-width="0.9"/>
<line x1="143.80" y1="392.30" x2="143.80" y2="394.60" stroke="#20209a" stroke-width="0.9"/>
<line x1="146.40" y1="392.85" x2="146.40" y2="395.15" stroke="#20209a" stroke-width="0.9"/>
<line x1="149.00" y1="393.25" x2="149.00" y2="395.55" stroke="#20209a" stroke-width="0.9"/>
<line x1="151.60" y1="393.40" x2="151.60" y2="395.70" stroke="#20209a" stroke-width="0.9"/>
<line x1="154.20" y1="393.40" x2="154.20" y2="395.70" stroke="#20209a" stroke-width="0.9"/>
<line x1="156.80" y1="393.40" x2="156.80" y2="395.70" stroke="#20209a" stroke-width="0.9"/>
<line x1="159.40" y1="393.40" x2="159.40" y2="395.70" stroke="#20209a" stroke-width="0.9"/>
<line x1="162.00" y1="393.40" x2="162.00" y2="395.70" stroke="#20209a" stroke-width="0.9"/>
<line x1="164.60" y1="393.40" x2="164.60" y2="395.70" stroke="#20209a" stroke-width="0.9"/>
<line x1="167.20" y1="393.40" x2="167.20" y2="395.70" stroke="#20209a" stroke-width="0.9"/>
<line x1="169.80" y1="393.40" x2="169.80" y2="395.70" stroke="#20209a" stroke-width="0.9"/>
<line x1="172.40" y1="393.40" x2="172.40" y2="395.70" stroke="#20209a" stroke-width="0.9"/>
<line x1="175.00" y1="393.40" x2="175.00" y2="395.70" stroke="#20209a" stroke-width="0.9"/>
<line x1="177.60" y1="393.40" x2="177.60" y2="395.70" stroke="#20209a" stroke-width="0.9"/>
<line x1="180.20" y1="393.40" x2="180.20" y2="395.70" stroke="#20209a" stroke-width="0.9"/>
<line x1="182.80" y1="393.40" x2="182.80" y2="395.70" stroke="#20209a" stroke-width="0.9"/>
<line x1="185.40" y1="393.40" x2="185.40" y2="395.70" stroke="#20209a" stroke-width="0.9"/>
<line x1="188.00" y1="393.40" x2="188.00" y2="395.70" stroke="#20209a" stroke-width="0.9"/>
<line x1="190.60" y1="393.40" x2="190.60" y2="395.70" stroke="#20209a" stroke-width="0.9"/>
<line x1="193.20" y1="393.40" x2="193.20" y2="395.70" stroke="#20209a" stroke-width="0.9"/>
<line x1="195.80" y1="393.40" x2="195.80" y2="395.70" stroke="#20209a" stroke-width="0.9"/>
<line x1="198.40" y1="393.40" x2="198.40" y2="395.70" stroke="#20209a" stroke-width="0.9"/>
<line x1="50.00" y1="356.32" x2="50.00" y2="358.62" stroke="#b82020" stroke-width="0.9"/>
<line x1="53.00" y1="357.84" x2="53.00" y2="360.14" stroke="#b82020" stroke-width="0.9"/>
<line x1="56.00" y1="360.89" x2="56.00" y2="363.19" stroke="#b82020" stroke-width="0.9"/>
<line x1="59.00" y1="363.08" x2="59.00" y2="365.38" stroke="#b82020" stroke-width="0.9"/>
<line x1="62.00" y1="364.10" x2="62.00" y2="366.40" stroke="#b82020" stroke-width="0.9"/>
<line x1="65.00" y1="364.88" x2="65.00" y2="367.18" stroke="#b82020" stroke-width="0.9"/>
<line x1="68.00" y1="365.62" x2="68.00" y2="367.93" stroke="#b82020" stroke-width="0.9"/>
<line x1="71.00" y1="366.61" x2="71.00" y2="368.91" stroke="#b82020" stroke-width="0.9"/>
<line x1="74.00" y1="367.73" x2="74.00" y2="370.03" stroke="#b82020" stroke-width="0.9"/>
<line x1="77.00" y1="371.36" x2="77.00" y2="373.66" stroke="#b82020" stroke-width="0.9"/>
<line x1="80.00" y1="372.90" x2="80.00" y2="375.20" stroke="#b82020" stroke-width="0.9"/>
<line x1="83.00" y1="373.26" x2="83.00" y2="375.56" stroke="#b82020" stroke-width="0.9"/>
<line x1="86.00" y1="375.85" x2="86.00" y2="378.15" stroke="#b82020" stroke-width="0.9"/>
<line x1="89.00" y1="377.77" x2="89.00" y2="380.07" stroke="#b82020" stroke-width="0.9"/>
<line x1="92.00" y1="379.05" x2="92.00" y2="381.35" stroke="#b82020" stroke-width="0.9"/>
<line x1="95.00" y1="379.94" x2="95.00" y2="382.24" stroke="#b82020" stroke-width="0.9"/>
<line x1="98.00" y1="380.74" x2="98.00" y2="383.04" stroke="#b82020" stroke-width="0.9"/>
<line x1="101.00" y1="381.53" x2="101.00" y2="383.83" stroke="#b82020" stroke-width="0.9"/>
<line x1="104.00" y1="383.09" x2="104.00" y2="385.39" stroke="#b82020" stroke-width="0.9"/>
<line x1="107.00" y1="384.85" x2="107.00" y2="387.15" stroke="#b82020" stroke-width="0.9"/>
<line x1="110.00" y1="385.73" x2="110.00" y2="388.03" stroke="#b82020" stroke-width="0.9"/>
<line x1="113.00" y1="386.61" x2="113.00" y2="388.91" stroke="#b82020" stroke-width="0.9"/>
<line x1="116.00" y1="387.48" x2="116.00" y2="389.78" stroke="#b82020" stroke-width="0.9"/>
<line x1="119.00" y1="388.28" x2="119.00" y2="390.58" stroke="#b82020" stroke-width="0.9"/>
<line x1="122.00" y1="388.88" x2="122.00" y2="391.18" stroke="#b82020" stroke-width="0.9"/>
<line x1="125.00" y1="389.48" x2="125.00" y2="391.78" stroke="#b82020" stroke-width="0.9"/>
<line x1="128.00" y1="390.08" x2="128.00" y2="392.38" stroke="#b82020" stroke-width="0.9"/>
<line x1="131.00" y1="390.68" x2="131.00" y2="392.98" stroke="#b82020" stroke-width="0.9"/>
<line x1="134.00" y1="391.27" x2="134.00" y2="393.57" stroke="#b82020" stroke-width="0.9"/>
<line x1="137.00" y1="391.87" x2="137.00" y2="394.17" stroke="#b82020" stroke-width="0.9"/>
<line x1="140.00" y1="392.46" x2="140.00" y2="394.76" stroke="#b82020" stroke-width="0.9"/>
<line x1="143.00" y1="393.64" x2="143.00" y2="395.94" stroke="#b82020" stroke-width="0.9"/>
<line x1="146.00" y1="395.11" x2="146.00" y2="397.41" stroke="#b82020" stroke-width="0.9"/>
<line x1="149.00" y1="395.22" x2="149.00" y2="397.52" stroke="#b82020" stroke-width="0.9"/>
<line x1="152.00" y1="395.33" x2="152.00" y2="397.63" stroke="#b82020" stroke-width="0.9"/>
<line x1="155.00" y1="395.45" x2="155.00" y2="397.75" stroke="#b82020" stroke-width="0.9"/>
<line x1="158.00" y1="395.56" x2="158.00" y2="397.86" stroke="#b82020" stroke-width="0.9"/>
<line x1="161.00" y1="395.68" x2="161.00" y2="397.98" stroke="#b82020" stroke-width="0.9"/>
<line x1="164.00" y1="395.79" x2="164.00" y2="398.09" stroke="#b82020" stroke-width="0.9"/>
<line x1="167.00" y1="399.70" x2="167.00" y2="402.00" stroke="#b82020" stroke-width="0.9"/>
<line x1="170.00" y1="399.70" x2="170.00" y2="402.00" stroke="#b82020" stroke-width="0.9"/>
<line x1="173.00" y1="399.70" x2="173.00" y2="402.00" stroke="#b82020" stroke-width="0.9"/>
<line x1="176.00" y1="399.70" x2="176.00" y2="402.00" stroke="#b82020" stroke-width="0.9"/>
<line x1="179.00" y1="399.70" x2="179.00" y2="402.00" stroke="#b82020" stroke-width="0.9"/>
<line x1="182.00" y1="399.70" x2="182.00" y2="402.00" stroke="#b82020" stroke-width="0.9"/>
<line x1="185.00" y1="399.70" x2="185.00" y2="402.00" stroke="#b82020" stroke-width="0.9"/>
<line x1="188.00" y1="399.70" x2="188.00" y2="402.00" stroke="#b82020" stroke-width="0.9"/>
<line x1="191.00" y1="399.70" x2="191.00" y2="402.00" stroke="#b82020" stroke-width="0.9"/>
<line x1="194.00" y1="399.70" x2="194.00" y2="402.00" stroke="#b82020" stroke-width="0.9"/>
<line x1="197.00" y1="399.70" x2="197.00" y2="402.00" stroke="#b82020" stroke-width="0.9"/>
<line x1="200.00" y1="399.70" x2="200.00" y2="402.00" stroke="#b82020" stroke-width="0.9"/>
<line x1="203.00" y1="399.70" x2="203.00" y2="402.00" stroke="#b82020" stroke-width="0.9"/>
<line x1="80.00" y1="388.55" x2="80.00" y2="390.85" stroke="#1f6f2a" stroke-width="0.9"/>
<line x1="85.50" y1="391.13" x2="85.50" y2="393.43" stroke="#1f6f2a" stroke-width="0.9"/>
<line x1="91.00" y1="395.32" x2="91.00" y2="397.62" stroke="#1f6f2a" stroke-width="0.9"/>
<line x1="96.50" y1="396.14" x2="96.50" y2="398.44" stroke="#1f6f2a" stroke-width="0.9"/>
<line x1="102.00" y1="396.86" x2="102.00" y2="399.16" stroke="#1f6f2a" stroke-width="0.9"/>
<line x1="107.50" y1="397.72" x2="107.50" y2="400.02" stroke="#1f6f2a" stroke-width="0.9"/>
<line x1="113.00" y1="399.10" x2="113.00" y2="401.40" stroke="#1f6f2a" stroke-width="0.9"/>
<line x1="118.50" y1="401.99" x2="118.50" y2="404.29" stroke="#1f6f2a" stroke-width="0.9"/>
<line x1="124.00" y1="407.55" x2="124.00" y2="409.85" stroke="#1f6f2a" stroke-width="0.9"/>
<line x1="129.50" y1="408.70" x2="129.50" y2="411.00" stroke="#1f6f2a" stroke-width="0.9"/>
<line x1="135.00" y1="408.70" x2="135.00" y2="411.00" stroke="#1f6f2a" stroke-width="0.9"/>
<line x1="140.50" y1="408.70" x2="140.50" y2="411.00" stroke="#1f6f2a" stroke-width="0.9"/>
<line x1="146.00" y1="408.70" x2="146.00" y2="411.00" stroke="#1f6f2a" stroke-width="0.9"/>
<line x1="151.50" y1="408.70" x2="151.50" y2="411.00" stroke="#1f6f2a" stroke-width="0.9"/>
<line x1="157.00" y1="408.70" x2="157.00" y2="411.00" stroke="#1f6f2a" stroke-width="0.9"/>
<line x1="162.50" y1="408.70" x2="162.50" y2="411.00" stroke="#1f6f2a" stroke-width="0.9"/>
<line x1="168.00" y1="408.70" x2="168.00" y2="411.00" stroke="#1f6f2a" stroke-width="0.9"/>
<line x1="173.50" y1="408.70" x2="173.50" y2="411.00" stroke="#1f6f2a" stroke-width="0.9"/>
<line x1="179.00" y1="408.70" x2="179.00" y2="411.00" stroke="#1f6f2a" stroke-width="0.9"/>
<line x1="184.50" y1="408.70" x2="184.50" y2="411.00" stroke="#1f6f2a" stroke-width="0.9"/>
<line x1="110.00" y1="427.62" x2="110.00" y2="429.93" stroke="#e2bc5c" stroke-width="0.9"/>
<line x1="117.00" y1="427.75" x2="117.00" y2="430.05" stroke="#e2bc5c" stroke-width="0.9"/>
<line x1="124.00" y1="427.88" x2="124.00" y2="430.18" stroke="#e2bc5c" stroke-width="0.9"/>
<line x1="131.00" y1="428.00" x2="131.00" y2="430.30" stroke="#e2bc5c" stroke-width="0.9"/>
<line x1="138.00" y1="432.00" x2="138.00" y2="434.30" stroke="#e2bc5c" stroke-width="0.9"/>
<line x1="145.00" y1="432.00" x2="145.00" y2="434.30" stroke="#e2bc5c" stroke-width="0.9"/>
<line x1="152.00" y1="432.00" x2="152.00" y2="434.30" stroke="#e2bc5c" stroke-width="0.9"/>
<line x1="159.00" y1="432.00" x2="159.00" y2="434.30" stroke="#e2bc5c" stroke-width="0.9"/>
<line x1="166.00" y1="432.00" x2="166.00" y2="434.30" stroke="#e2bc5c" stroke-width="0.9"/>
<line x1="173.00" y1="432.00" x2="173.00" y2="434.30" stroke="#e2bc5c" stroke-width="0.9"/>
<line x1="180.00" y1="432.00" x2="180.00" y2="434.30" stroke="#e2bc5c" stroke-width="0.9"/>
<line x1="187.00" y1="432.00" x2="187.00" y2="434.30" stroke="#e2bc5c" stroke-width="0.9"/>
<line x1="194.00" y1="432.00" x2="194.00" y2="434.30" stroke="#e2bc5c" stroke-width="0.9"/>
<text transform="translate(104.40,363.50) scale(1,1.12)" font-size="6.38" text-anchor="start" fill="#3a3eb8" stroke="#3a3eb8" stroke-width="0.15">a Thalidomide/no CA</text>
<text transform="translate(187.80,363.50) scale(1,1.12)" font-size="6.38" text-anchor="middle" fill="#3a3eb8" stroke="#3a3eb8" stroke-width="0.15">52 / 148</text>
<text transform="translate(218.40,363.50) scale(1,1.12)" font-size="6.38" text-anchor="end" fill="#3a3eb8" stroke="#3a3eb8" stroke-width="0.15">63%</text>
<text transform="translate(222.00,363.50) scale(1,1.12)" font-size="6.38" text-anchor="start" fill="#3a3eb8" stroke="#3a3eb8" stroke-width="0.15">(55,72)</text>
<text transform="translate(104.40,369.40) scale(1,1.12)" font-size="6.38" text-anchor="start" fill="#d44040" stroke="#d44040" stroke-width="0.15">b Control/no CA</text>
<text transform="translate(187.80,369.40) scale(1,1.12)" font-size="6.38" text-anchor="middle" fill="#d44040" stroke="#d44040" stroke-width="0.15">43 / 117</text>
<text transform="translate(218.40,369.40) scale(1,1.12)" font-size="6.38" text-anchor="end" fill="#d44040" stroke="#d44040" stroke-width="0.15">61%</text>
<text transform="translate(222.00,369.40) scale(1,1.12)" font-size="6.38" text-anchor="start" fill="#d44040" stroke="#d44040" stroke-width="0.15">(51,71)</text>
<text transform="translate(104.40,375.40) scale(1,1.12)" font-size="6.38" text-anchor="start" fill="#368c42" stroke="#368c42" stroke-width="0.15">c Thalidomide/CA</text>
<text transform="translate(187.80,375.40) scale(1,1.12)" font-size="6.38" text-anchor="middle" fill="#368c42" stroke="#368c42" stroke-width="0.15">27 / 52</text>
<text transform="translate(218.40,375.40) scale(1,1.12)" font-size="6.38" text-anchor="end" fill="#368c42" stroke="#368c42" stroke-width="0.15">47%</text>
<text transform="translate(222.00,375.40) scale(1,1.12)" font-size="6.38" text-anchor="start" fill="#368c42" stroke="#368c42" stroke-width="0.15">(32,61)</text>
<text transform="translate(104.40,381.50) scale(1,1.12)" font-size="6.38" text-anchor="start" fill="#f0bc5c" stroke="#f0bc5c" stroke-width="0.15">d Control/CA</text>
<text transform="translate(187.80,381.50) scale(1,1.12)" font-size="6.38" text-anchor="middle" fill="#f0bc5c" stroke="#f0bc5c" stroke-width="0.15">24 / 31</text>
<text transform="translate(218.40,381.50) scale(1,1.12)" font-size="6.38" text-anchor="end" fill="#f0bc5c" stroke="#f0bc5c" stroke-width="0.15">26%</text>
<text transform="translate(222.00,381.50) scale(1,1.12)" font-size="6.38" text-anchor="start" fill="#f0bc5c" stroke="#f0bc5c" stroke-width="0.15">(10,40)</text>
<text transform="translate(187.80,357.30) scale(1,1.12)" font-size="6.38" text-anchor="middle" fill="#1a1a1a" stroke="#1a1a1a" stroke-width="0.25">Events / N</text>
<text transform="translate(225.00,351.00) scale(1,1.12)" font-size="6.38" text-anchor="middle" fill="#1a1a1a" stroke="#1a1a1a" stroke-width="0.25">5-Year</text>
<text transform="translate(225.00,357.30) scale(1,1.12)" font-size="6.38" text-anchor="middle" fill="#1a1a1a" stroke="#1a1a1a" stroke-width="0.25">Estimate</text>
<text transform="translate(132.10,387.90) scale(1,1.12)" font-size="6.38" fill="#1a1a1a" stroke="#1a1a1a" stroke-width="0.25"><tspan font-style="italic">P</tspan>-value: a v b= .66, c v d=0.05</text>
<text transform="translate(258.50,330.80) scale(1,1.0)" font-size="12" text-anchor="start" fill="#000" stroke="#000" stroke-width="0.7" font-weight="bold">E</text>
<text transform="translate(393.00,334.00) scale(1,1.0)" font-size="6.84" text-anchor="middle" fill="#1a1a1a" stroke="#1a1a1a" stroke-width="0.15">Survival After Relapse by Thalidomide and Cytogenetic Abnormalities</text>
<line x1="287.40" y1="341.20" x2="287.40" y2="457.90" stroke="#3a3a3a" stroke-width="1.3"/>
<line x1="283.90" y1="457.90" x2="497.60" y2="457.90" stroke="#3a3a3a" stroke-width="1.1"/>
<line x1="283.90" y1="457.90" x2="287.40" y2="457.90" stroke="#3a3a3a" stroke-width="0.9"/>
<text transform="translate(280.70,460.35) scale(1,1.06)" font-size="6.8" text-anchor="end" fill="#1a1a1a" stroke="#1a1a1a" stroke-width="0.24">0%</text>
<line x1="285.60" y1="446.23" x2="287.40" y2="446.23" stroke="#3a3a3a" stroke-width="0.9"/>
<line x1="283.90" y1="434.56" x2="287.40" y2="434.56" stroke="#3a3a3a" stroke-width="0.9"/>
<text transform="translate(280.70,437.01) scale(1,1.06)" font-size="6.8" text-anchor="end" fill="#1a1a1a" stroke="#1a1a1a" stroke-width="0.24">20%</text>
<line x1="285.60" y1="422.89" x2="287.40" y2="422.89" stroke="#3a3a3a" stroke-width="0.9"/>
<line x1="283.90" y1="411.22" x2="287.40" y2="411.22" stroke="#3a3a3a" stroke-width="0.9"/>
<text transform="translate(280.70,413.67) scale(1,1.06)" font-size="6.8" text-anchor="end" fill="#1a1a1a" stroke="#1a1a1a" stroke-width="0.24">40%</text>
<line x1="285.60" y1="399.55" x2="287.40" y2="399.55" stroke="#3a3a3a" stroke-width="0.9"/>
<line x1="283.90" y1="387.88" x2="287.40" y2="387.88" stroke="#3a3a3a" stroke-width="0.9"/>
<text transform="translate(280.70,390.33) scale(1,1.06)" font-size="6.8" text-anchor="end" fill="#1a1a1a" stroke="#1a1a1a" stroke-width="0.24">60%</text>
<line x1="285.60" y1="376.21" x2="287.40" y2="376.21" stroke="#3a3a3a" stroke-width="0.9"/>
<line x1="283.90" y1="364.54" x2="287.40" y2="364.54" stroke="#3a3a3a" stroke-width="0.9"/>
<text transform="translate(280.70,366.99) scale(1,1.06)" font-size="6.8" text-anchor="end" fill="#1a1a1a" stroke="#1a1a1a" stroke-width="0.24">80%</text>
<line x1="285.60" y1="352.87" x2="287.40" y2="352.87" stroke="#3a3a3a" stroke-width="0.9"/>
<line x1="283.90" y1="341.20" x2="287.40" y2="341.20" stroke="#3a3a3a" stroke-width="0.9"/>
<text transform="translate(280.70,343.65) scale(1,1.06)" font-size="6.8" text-anchor="end" fill="#1a1a1a" stroke="#1a1a1a" stroke-width="0.24">100%</text>
<line x1="287.40" y1="457.90" x2="287.40" y2="460.30" stroke="#3a3a3a" stroke-width="0.9"/>
<text transform="translate(287.40,467.40) scale(1,1.06)" font-size="6.8" text-anchor="middle" fill="#1a1a1a" stroke="#1a1a1a" stroke-width="0.24">0</text>
<line x1="308.42" y1="457.90" x2="308.42" y2="459.70" stroke="#3a3a3a" stroke-width="0.9"/>
<line x1="329.44" y1="457.90" x2="329.44" y2="460.30" stroke="#3a3a3a" stroke-width="0.9"/>
<text transform="translate(329.44,467.40) scale(1,1.06)" font-size="6.8" text-anchor="middle" fill="#1a1a1a" stroke="#1a1a1a" stroke-width="0.24">2</text>
<line x1="350.46" y1="457.90" x2="350.46" y2="459.70" stroke="#3a3a3a" stroke-width="0.9"/>
<line x1="371.48" y1="457.90" x2="371.48" y2="460.30" stroke="#3a3a3a" stroke-width="0.9"/>
<text transform="translate(371.48,467.40) scale(1,1.06)" font-size="6.8" text-anchor="middle" fill="#1a1a1a" stroke="#1a1a1a" stroke-width="0.24">4</text>
<line x1="392.50" y1="457.90" x2="392.50" y2="459.70" stroke="#3a3a3a" stroke-width="0.9"/>
<line x1="413.52" y1="457.90" x2="413.52" y2="460.30" stroke="#3a3a3a" stroke-width="0.9"/>
<text transform="translate(413.52,467.40) scale(1,1.06)" font-size="6.8" text-anchor="middle" fill="#1a1a1a" stroke="#1a1a1a" stroke-width="0.24">6</text>
<line x1="434.54" y1="457.90" x2="434.54" y2="459.70" stroke="#3a3a3a" stroke-width="0.9"/>
<line x1="455.56" y1="457.90" x2="455.56" y2="460.30" stroke="#3a3a3a" stroke-width="0.9"/>
<text transform="translate(455.56,467.40) scale(1,1.06)" font-size="6.8" text-anchor="middle" fill="#1a1a1a" stroke="#1a1a1a" stroke-width="0.24">8</text>
<line x1="476.58" y1="457.90" x2="476.58" y2="459.70" stroke="#3a3a3a" stroke-width="0.9"/>
<line x1="497.60" y1="457.90" x2="497.60" y2="460.30" stroke="#3a3a3a" stroke-width="0.9"/>
<text transform="translate(497.60,467.40) scale(1,1.06)" font-size="6.8" text-anchor="middle" fill="#1a1a1a" stroke="#1a1a1a" stroke-width="0.24">10</text>
<text transform="translate(393.40,473.60) scale(1,1.0)" font-size="7.6" text-anchor="middle" fill="#1a1a1a" stroke="#1a1a1a" stroke-width="0.24">Years from relapse or progression</text>
<polyline points="287.40,341.20 287.66,341.20 287.66,342.61 288.17,342.61 288.17,344.03 288.69,344.03 288.69,345.44 289.20,345.44 289.20,346.86 289.71,346.86 289.71,348.27 290.23,348.27 290.23,349.69 290.74,349.69 290.74,351.10 291.00,351.10 291.34,351.10 291.34,352.62 292.02,352.62 292.02,354.14 292.70,354.14 292.70,355.66 293.38,355.66 293.38,357.18 294.06,357.18 294.06,358.70 294.40,358.70 294.68,358.70 294.68,360.23 295.25,360.23 295.25,361.77 295.82,361.77 295.82,363.30 296.38,363.30 296.38,364.83 296.95,364.83 296.95,366.37 297.52,366.37 297.52,367.90 297.80,367.90 298.04,367.90 298.04,369.34 298.51,369.34 298.51,370.79 298.98,370.79 298.98,372.23 299.45,372.23 299.45,373.67 299.92,373.67 299.92,375.11 300.39,375.11 300.39,376.56 300.86,376.56 300.86,378.00 301.10,378.00 301.53,378.00 301.53,379.68 302.38,379.68 302.38,381.35 303.23,381.35 303.23,383.02 304.07,383.02 304.07,384.70 304.50,384.70 304.83,384.70 304.83,386.06 305.49,386.06 305.49,387.42 306.15,387.42 306.15,388.78 306.81,388.78 306.81,390.14 307.47,390.14 307.47,391.50 307.80,391.50 308.23,391.50 308.23,393.18 309.07,393.18 309.07,394.85 309.93,394.85 309.93,396.52 310.77,396.52 310.77,398.20 311.20,398.20 311.77,398.20 311.77,399.87 312.90,399.87 312.90,401.53 314.03,401.53 314.03,403.20 314.60,403.20 314.93,403.20 314.93,404.56 315.59,404.56 315.59,405.92 316.25,405.92 316.25,407.28 316.91,407.28 316.91,408.64 317.57,408.64 317.57,410.00 317.90,410.00 320.50,410.00 320.50,411.50 323.10,411.50 323.71,411.50 323.71,412.86 324.93,412.86 324.93,414.22 326.15,414.22 326.15,415.58 327.37,415.58 327.37,416.94 328.59,416.94 328.59,418.30 329.20,418.30 355.35,418.30 355.35,419.20 381.50,419.20 381.50,428.50 461.50,428.50" fill="none" stroke="#2f8f3a" stroke-width="1.0" stroke-linejoin="miter" opacity="1"/>
<polyline points="287.40,341.20 287.76,341.20 287.76,342.84 288.48,342.84 288.48,344.48 289.20,344.48 289.20,346.12 289.92,346.12 289.92,347.76 290.64,347.76 290.64,349.40 291.00,349.40 291.28,349.40 291.28,350.80 291.85,350.80 291.85,352.20 292.42,352.20 292.42,353.60 292.98,353.60 292.98,355.00 293.55,355.00 293.55,356.40 294.12,356.40 294.12,357.80 294.40,357.80 294.82,357.80 294.82,359.27 295.68,359.27 295.68,360.75 296.52,360.75 296.52,362.23 297.38,362.23 297.38,363.70 297.80,363.70 298.35,363.70 298.35,365.10 299.45,365.10 299.45,366.50 300.55,366.50 300.55,367.90 301.10,367.90 301.44,367.90 301.44,369.26 302.12,369.26 302.12,370.62 302.80,370.62 302.80,371.98 303.48,371.98 303.48,373.34 304.16,373.34 304.16,374.70 304.50,374.70 305.05,374.70 305.05,376.37 306.15,376.37 306.15,378.03 307.25,378.03 307.25,379.70 307.80,379.70 308.23,379.70 308.23,381.38 309.07,381.38 309.07,383.05 309.93,383.05 309.93,384.72 310.77,384.72 310.77,386.40 311.20,386.40 311.37,386.40 311.37,387.92 311.71,387.92 311.71,389.44 312.05,389.44 312.05,390.96 312.39,390.96 312.39,392.48 312.73,392.48 312.73,394.00 312.90,394.00 314.57,394.00 314.57,395.25 317.93,395.25 317.93,396.50 319.60,396.50 320.24,396.50 320.24,397.98 321.51,397.98 321.51,399.45 322.79,399.45 322.79,400.92 324.06,400.92 324.06,402.40 324.70,402.40 325.53,402.40 325.53,403.80 327.20,403.80 327.20,405.20 328.87,405.20 328.87,406.60 329.70,406.60 330.65,406.60 330.65,408.07 332.55,408.07 332.55,409.53 334.45,409.53 334.45,411.00 335.40,411.00 336.68,411.00 336.68,412.67 339.25,412.67 339.25,414.33 341.82,414.33 341.82,416.00 343.10,416.00 344.25,416.00 344.25,417.60 346.55,417.60 346.55,419.20 347.70,419.20 349.24,419.20 349.24,420.75 352.31,420.75 352.31,422.30 355.39,422.30 355.39,423.85 358.46,423.85 358.46,425.40 360.00,425.40 361.54,425.40 361.54,426.92 364.61,426.92 364.61,428.45 367.69,428.45 367.69,429.98 370.76,429.98 370.76,431.50 372.30,431.50 373.33,431.50 373.33,433.07 375.40,433.07 375.40,434.63 377.47,434.63 377.47,436.20 378.50,436.20 379.26,436.20 379.26,437.73 380.79,437.73 380.79,439.25 382.31,439.25 382.31,440.77 383.84,440.77 383.84,442.30 384.60,442.30 384.91,442.30 384.91,443.84 385.53,443.84 385.53,445.38 386.15,445.38 386.15,446.92 386.77,446.92 386.77,448.46 387.39,448.46 387.39,450.00 387.70,450.00 415.40,450.00" fill="none" stroke="#f0d27c" stroke-width="1.0" stroke-linejoin="miter" opacity="1"/>
<polyline points="287.40,341.20 287.66,341.20 287.66,342.77 288.19,342.77 288.19,344.35 288.71,344.35 288.71,345.93 289.24,345.93 289.24,347.50 289.50,347.50 289.75,347.50 289.75,348.82 290.25,348.82 290.25,350.15 290.75,350.15 290.75,351.48 291.25,351.48 291.25,352.80 291.50,352.80 291.93,352.80 291.93,354.60 292.77,354.60 292.77,356.40 293.20,356.40 293.98,356.40 293.98,358.00 295.52,358.00 295.52,359.60 296.30,359.60 297.10,359.60 297.10,360.90 298.70,360.90 298.70,362.20 299.50,362.20 300.18,362.20 300.18,363.70 301.52,363.70 301.52,365.20 302.20,365.20 302.77,365.20 302.77,367.00 303.93,367.00 303.93,368.80 304.50,368.80 305.32,368.80 305.32,370.05 306.98,370.05 306.98,371.30 307.80,371.30 308.65,371.30 308.65,372.55 310.35,372.55 310.35,373.80 311.20,373.80 311.77,373.80 311.77,375.20 312.90,375.20 312.90,376.60 314.03,376.60 314.03,378.00 314.60,378.00 315.15,378.00 315.15,379.40 316.25,379.40 316.25,380.80 317.35,380.80 317.35,382.20 317.90,382.20 318.47,382.20 318.47,383.90 319.60,383.90 319.60,385.60 320.73,385.60 320.73,387.30 321.30,387.30 322.15,387.30 322.15,388.95 323.85,388.95 323.85,390.60 324.70,390.60 324.83,390.60 324.83,392.17 325.10,392.17 325.10,393.73 325.37,393.73 325.37,395.30 325.63,395.30 325.63,396.87 325.90,396.87 325.90,398.43 326.17,398.43 326.17,400.00 326.30,400.00 327.15,400.00 327.15,401.60 328.85,401.60 328.85,403.20 329.70,403.20 330.55,403.20 330.55,404.85 332.25,404.85 332.25,406.50 333.10,406.50 333.93,406.50 333.93,408.25 335.57,408.25 335.57,410.00 336.40,410.00 339.75,410.00 339.75,411.60 343.10,411.60 344.80,411.60 344.80,412.90 348.20,412.90 348.20,414.20 349.90,414.20 359.55,414.20 359.55,416.20 369.20,416.20 369.66,416.20 369.66,417.60 370.58,417.60 370.58,419.00 371.50,419.00 371.50,420.40 372.42,420.40 372.42,421.80 373.34,421.80 373.34,423.20 373.80,423.20 396.90,423.20" fill="none" stroke="#3030c0" stroke-width="1.0" stroke-linejoin="miter" opacity="1"/>
<polyline points="287.40,341.20 287.90,341.20 287.90,342.80 288.90,342.80 288.90,344.40 289.40,344.40 289.80,344.40 289.80,346.10 290.60,346.10 290.60,347.80 291.00,347.80 292.70,347.80 292.70,349.40 294.40,349.40 295.65,349.40 295.65,351.10 298.15,351.10 298.15,352.80 299.40,352.80 299.97,352.80 299.97,354.20 301.10,354.20 301.10,355.60 302.23,355.60 302.23,357.00 302.80,357.00 304.05,357.00 304.05,358.25 306.55,358.25 306.55,359.50 307.80,359.50 309.07,359.50 309.07,360.75 311.62,360.75 311.62,362.00 312.90,362.00 313.75,362.00 313.75,363.30 315.45,363.30 315.45,364.60 316.30,364.60 316.57,364.60 316.57,366.00 317.10,366.00 317.10,367.40 317.63,367.40 317.63,368.80 317.90,368.80 318.75,368.80 318.75,370.05 320.45,370.05 320.45,371.30 321.30,371.30 322.55,371.30 322.55,373.00 325.05,373.00 325.05,374.70 326.30,374.70 327.57,374.70 327.57,375.95 330.12,375.95 330.12,377.20 331.40,377.20 332.65,377.20 332.65,378.85 335.15,378.85 335.15,380.50 336.40,380.50 338.95,380.50 338.95,381.40 341.50,381.40 341.90,381.40 341.90,382.65 342.70,382.65 342.70,383.90 343.10,383.90 343.67,383.90 343.67,385.30 344.80,385.30 344.80,386.70 345.93,386.70 345.93,388.10 346.50,388.10 347.35,388.10 347.35,389.80 349.05,389.80 349.05,391.50 349.90,391.50 351.57,391.50 351.57,392.75 354.93,392.75 354.93,394.00 356.60,394.00 357.45,394.00 357.45,395.25 359.15,395.25 359.15,396.50 360.00,396.50 360.55,396.50 360.55,398.17 361.65,398.17 361.65,399.83 362.75,399.83 362.75,401.50 363.30,401.50 363.75,401.50 363.75,402.90 364.65,402.90 364.65,404.30 365.55,404.30 365.55,405.70 366.00,405.70 367.60,405.70 367.60,406.90 369.20,406.90 370.23,406.90 370.23,408.43 372.30,408.43 372.30,409.97 374.37,409.97 374.37,411.50 375.40,411.50 376.92,411.50 376.92,413.05 379.98,413.05 379.98,414.60 381.50,414.60 382.68,414.60 382.68,416.45 385.02,416.45 385.02,418.30 386.20,418.30 413.10,418.30 413.10,419.20 440.00,419.20 440.00,438.60 458.50,438.60" fill="none" stroke="#d83030" stroke-width="1.0" stroke-linejoin="miter" opacity="1"/>
<line x1="325.00" y1="390.86" x2="325.00" y2="393.16" stroke="#20209a" stroke-width="0.9"/>
<line x1="329.50" y1="401.51" x2="329.50" y2="403.81" stroke="#20209a" stroke-width="0.9"/>
<line x1="334.00" y1="405.95" x2="334.00" y2="408.25" stroke="#20209a" stroke-width="0.9"/>
<line x1="338.50" y1="409.00" x2="338.50" y2="411.30" stroke="#20209a" stroke-width="0.9"/>
<line x1="343.00" y1="410.08" x2="343.00" y2="412.38" stroke="#20209a" stroke-width="0.9"/>
<line x1="347.50" y1="411.78" x2="347.50" y2="414.08" stroke="#20209a" stroke-width="0.9"/>
<line x1="352.00" y1="412.92" x2="352.00" y2="415.22" stroke="#20209a" stroke-width="0.9"/>
<line x1="356.50" y1="413.38" x2="356.50" y2="415.68" stroke="#20209a" stroke-width="0.9"/>
<line x1="361.00" y1="413.85" x2="361.00" y2="416.15" stroke="#20209a" stroke-width="0.9"/>
<line x1="365.50" y1="414.32" x2="365.50" y2="416.62" stroke="#20209a" stroke-width="0.9"/>
<line x1="370.00" y1="415.92" x2="370.00" y2="418.22" stroke="#20209a" stroke-width="0.9"/>
<line x1="374.50" y1="421.70" x2="374.50" y2="424.00" stroke="#20209a" stroke-width="0.9"/>
<line x1="379.00" y1="421.70" x2="379.00" y2="424.00" stroke="#20209a" stroke-width="0.9"/>
<line x1="383.50" y1="421.70" x2="383.50" y2="424.00" stroke="#20209a" stroke-width="0.9"/>
<line x1="388.00" y1="421.70" x2="388.00" y2="424.00" stroke="#20209a" stroke-width="0.9"/>
<line x1="392.50" y1="421.70" x2="392.50" y2="424.00" stroke="#20209a" stroke-width="0.9"/>
<line x1="330.00" y1="375.01" x2="330.00" y2="377.31" stroke="#b82020" stroke-width="0.9"/>
<line x1="336.00" y1="378.74" x2="336.00" y2="381.04" stroke="#b82020" stroke-width="0.9"/>
<line x1="342.00" y1="380.68" x2="342.00" y2="382.98" stroke="#b82020" stroke-width="0.9"/>
<line x1="348.00" y1="388.10" x2="348.00" y2="390.40" stroke="#b82020" stroke-width="0.9"/>
<line x1="354.00" y1="391.53" x2="354.00" y2="393.83" stroke="#b82020" stroke-width="0.9"/>
<line x1="360.00" y1="395.00" x2="360.00" y2="397.30" stroke="#b82020" stroke-width="0.9"/>
<line x1="366.00" y1="404.20" x2="366.00" y2="406.50" stroke="#b82020" stroke-width="0.9"/>
<line x1="372.00" y1="407.48" x2="372.00" y2="409.78" stroke="#b82020" stroke-width="0.9"/>
<line x1="378.00" y1="411.32" x2="378.00" y2="413.62" stroke="#b82020" stroke-width="0.9"/>
<line x1="384.00" y1="415.07" x2="384.00" y2="417.37" stroke="#b82020" stroke-width="0.9"/>
<line x1="390.00" y1="416.86" x2="390.00" y2="419.16" stroke="#b82020" stroke-width="0.9"/>
<line x1="396.00" y1="416.96" x2="396.00" y2="419.26" stroke="#b82020" stroke-width="0.9"/>
<line x1="402.00" y1="417.06" x2="402.00" y2="419.36" stroke="#b82020" stroke-width="0.9"/>
<line x1="408.00" y1="417.16" x2="408.00" y2="419.46" stroke="#b82020" stroke-width="0.9"/>
<line x1="414.00" y1="417.27" x2="414.00" y2="419.57" stroke="#b82020" stroke-width="0.9"/>
<line x1="420.00" y1="417.37" x2="420.00" y2="419.67" stroke="#b82020" stroke-width="0.9"/>
<line x1="426.00" y1="417.47" x2="426.00" y2="419.77" stroke="#b82020" stroke-width="0.9"/>
<line x1="432.00" y1="417.57" x2="432.00" y2="419.87" stroke="#b82020" stroke-width="0.9"/>
<line x1="438.00" y1="417.67" x2="438.00" y2="419.97" stroke="#b82020" stroke-width="0.9"/>
<line x1="444.00" y1="437.10" x2="444.00" y2="439.40" stroke="#b82020" stroke-width="0.9"/>
<line x1="450.00" y1="437.10" x2="450.00" y2="439.40" stroke="#b82020" stroke-width="0.9"/>
<line x1="456.00" y1="437.10" x2="456.00" y2="439.40" stroke="#b82020" stroke-width="0.9"/>
<line x1="320.00" y1="409.11" x2="320.00" y2="411.41" stroke="#1f6f2a" stroke-width="0.9"/>
<line x1="329.00" y1="416.58" x2="329.00" y2="418.88" stroke="#1f6f2a" stroke-width="0.9"/>
<line x1="338.00" y1="416.95" x2="338.00" y2="419.25" stroke="#1f6f2a" stroke-width="0.9"/>
<line x1="347.00" y1="417.11" x2="347.00" y2="419.41" stroke="#1f6f2a" stroke-width="0.9"/>
<line x1="356.00" y1="417.26" x2="356.00" y2="419.56" stroke="#1f6f2a" stroke-width="0.9"/>
<line x1="365.00" y1="417.42" x2="365.00" y2="419.72" stroke="#1f6f2a" stroke-width="0.9"/>
<line x1="374.00" y1="417.57" x2="374.00" y2="419.87" stroke="#1f6f2a" stroke-width="0.9"/>
<line x1="383.00" y1="427.00" x2="383.00" y2="429.30" stroke="#1f6f2a" stroke-width="0.9"/>
<line x1="392.00" y1="427.00" x2="392.00" y2="429.30" stroke="#1f6f2a" stroke-width="0.9"/>
<line x1="401.00" y1="427.00" x2="401.00" y2="429.30" stroke="#1f6f2a" stroke-width="0.9"/>
<line x1="410.00" y1="427.00" x2="410.00" y2="429.30" stroke="#1f6f2a" stroke-width="0.9"/>
<line x1="419.00" y1="427.00" x2="419.00" y2="429.30" stroke="#1f6f2a" stroke-width="0.9"/>
<line x1="428.00" y1="427.00" x2="428.00" y2="429.30" stroke="#1f6f2a" stroke-width="0.9"/>
<line x1="437.00" y1="427.00" x2="437.00" y2="429.30" stroke="#1f6f2a" stroke-width="0.9"/>
<line x1="446.00" y1="427.00" x2="446.00" y2="429.30" stroke="#1f6f2a" stroke-width="0.9"/>
<line x1="455.00" y1="427.00" x2="455.00" y2="429.30" stroke="#1f6f2a" stroke-width="0.9"/>
<line x1="350.00" y1="418.86" x2="350.00" y2="421.16" stroke="#e2bc5c" stroke-width="0.9"/>
<line x1="358.00" y1="422.89" x2="358.00" y2="425.19" stroke="#e2bc5c" stroke-width="0.9"/>
<line x1="366.00" y1="426.88" x2="366.00" y2="429.18" stroke="#e2bc5c" stroke-width="0.9"/>
<line x1="374.00" y1="431.29" x2="374.00" y2="433.59" stroke="#e2bc5c" stroke-width="0.9"/>
<line x1="382.00" y1="438.20" x2="382.00" y2="440.50" stroke="#e2bc5c" stroke-width="0.9"/>
<line x1="390.00" y1="448.50" x2="390.00" y2="450.80" stroke="#e2bc5c" stroke-width="0.9"/>
<line x1="398.00" y1="448.50" x2="398.00" y2="450.80" stroke="#e2bc5c" stroke-width="0.9"/>
<line x1="406.00" y1="448.50" x2="406.00" y2="450.80" stroke="#e2bc5c" stroke-width="0.9"/>
<line x1="414.00" y1="448.50" x2="414.00" y2="450.80" stroke="#e2bc5c" stroke-width="0.9"/>
<text transform="translate(370.70,357.78) scale(1,1.12)" font-size="6.9" text-anchor="start" fill="#3a3eb8" stroke="#3a3eb8" stroke-width="0.15">a Thalidomide/no CA</text>
<text transform="translate(461.80,357.78) scale(1,1.12)" font-size="6.9" text-anchor="middle" fill="#3a3eb8" stroke="#3a3eb8" stroke-width="0.15">36 / 65</text>
<text transform="translate(491.90,357.78) scale(1,1.12)" font-size="6.9" text-anchor="end" fill="#3a3eb8" stroke="#3a3eb8" stroke-width="0.15">29%</text>
<text transform="translate(516.40,357.78) scale(1,1.12)" font-size="6.9" text-anchor="end" fill="#3a3eb8" stroke="#3a3eb8" stroke-width="0.15">(12,46)</text>
<text transform="translate(370.70,364.08) scale(1,1.12)" font-size="6.9" text-anchor="start" fill="#d44040" stroke="#d44040" stroke-width="0.15">b Control/no CA</text>
<text transform="translate(461.80,364.08) scale(1,1.12)" font-size="6.9" text-anchor="middle" fill="#d44040" stroke="#d44040" stroke-width="0.15">45 / 97</text>
<text transform="translate(491.90,364.08) scale(1,1.12)" font-size="6.9" text-anchor="end" fill="#d44040" stroke="#d44040" stroke-width="0.15">33%</text>
<text transform="translate(516.40,364.08) scale(1,1.12)" font-size="6.9" text-anchor="end" fill="#d44040" stroke="#d44040" stroke-width="0.15">(19,47)</text>
<text transform="translate(370.70,370.68) scale(1,1.12)" font-size="6.9" text-anchor="start" fill="#368c42" stroke="#368c42" stroke-width="0.15">c Thalidomide/CA</text>
<text transform="translate(461.80,370.68) scale(1,1.12)" font-size="6.9" text-anchor="middle" fill="#368c42" stroke="#368c42" stroke-width="0.15">26 / 40</text>
<text transform="translate(491.90,370.68) scale(1,1.12)" font-size="6.9" text-anchor="end" fill="#368c42" stroke="#368c42" stroke-width="0.15">25%</text>
<text transform="translate(516.40,370.68) scale(1,1.12)" font-size="6.9" text-anchor="end" fill="#368c42" stroke="#368c42" stroke-width="0.15">(7,43)</text>
<text transform="translate(370.70,377.08) scale(1,1.12)" font-size="6.9" text-anchor="start" fill="#f0bc5c" stroke="#f0bc5c" stroke-width="0.15">d Control/CA</text>
<text transform="translate(461.80,377.08) scale(1,1.12)" font-size="6.9" text-anchor="middle" fill="#f0bc5c" stroke="#f0bc5c" stroke-width="0.15">39 / 54</text>
<text transform="translate(491.90,377.08) scale(1,1.12)" font-size="6.9" text-anchor="end" fill="#f0bc5c" stroke="#f0bc5c" stroke-width="0.15">6%</text>
<text transform="translate(516.40,377.08) scale(1,1.12)" font-size="6.9" text-anchor="end" fill="#f0bc5c" stroke="#f0bc5c" stroke-width="0.15">(0,17)</text>
<text transform="translate(461.80,351.68) scale(1,1.12)" font-size="6.9" text-anchor="middle" fill="#1a1a1a" stroke="#1a1a1a" stroke-width="0.25">Deaths / N</text>
<text transform="translate(500.50,345.98) scale(1,1.12)" font-size="6.9" text-anchor="middle" fill="#1a1a1a" stroke="#1a1a1a" stroke-width="0.25">5-Year</text>
<text transform="translate(500.50,351.68) scale(1,1.12)" font-size="6.9" text-anchor="middle" fill="#1a1a1a" stroke="#1a1a1a" stroke-width="0.25">Estimate</text>
<text transform="translate(401.20,384.24) scale(1,1.12)" font-size="6.78" fill="#1a1a1a" stroke="#1a1a1a" stroke-width="0.25"><tspan font-style="italic">P</tspan>-value: a v b= .04, c v d=0.99</text>
</g>
</svg></div></body></html>
